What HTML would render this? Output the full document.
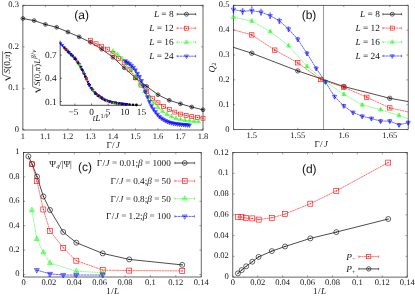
<!DOCTYPE html>
<html><head><meta charset="utf-8"><title>figure</title>
<style>
html,body{margin:0;padding:0;background:#fff;}
body{width:415px;height:297px;overflow:hidden;font-family:"Liberation Serif",serif;}
svg{display:block}
text{fill:#141414;text-rendering:geometricPrecision}
</style></head><body>
<svg width="415" height="297" viewBox="0 0 415 297">
<rect width="415" height="297" fill="#fff"/>
<filter id="soft" x="0" y="0" width="100%" height="100%" filterUnits="userSpaceOnUse"><feGaussianBlur stdDeviation="0.3"/></filter>
<g filter="url(#soft)">
<rect width="415" height="297" fill="#fff"/>
<clipPath id="ca"><rect x="22.9" y="5.3" width="183.1" height="124.7"/></clipPath>
<rect x="22.9" y="5.3" width="180.1" height="124.7" fill="none" stroke="#2a2a2a" stroke-width="0.72"/>
<line x1="22.90" y1="130.0" x2="22.90" y2="128.2" stroke="#2a2a2a" stroke-width="0.432"/>
<line x1="22.90" y1="5.3" x2="22.90" y2="7.1" stroke="#2a2a2a" stroke-width="0.432"/>
<text x="22.90" y="139.00" font-size="8.5" text-anchor="middle" font-family='"Liberation Serif", serif'  >1</text>
<line x1="45.41" y1="130.0" x2="45.41" y2="128.2" stroke="#2a2a2a" stroke-width="0.432"/>
<line x1="45.41" y1="5.3" x2="45.41" y2="7.1" stroke="#2a2a2a" stroke-width="0.432"/>
<text x="45.41" y="139.00" font-size="8.5" text-anchor="middle" font-family='"Liberation Serif", serif'  >1.1</text>
<line x1="67.92" y1="130.0" x2="67.92" y2="128.2" stroke="#2a2a2a" stroke-width="0.432"/>
<line x1="67.92" y1="5.3" x2="67.92" y2="7.1" stroke="#2a2a2a" stroke-width="0.432"/>
<text x="67.92" y="139.00" font-size="8.5" text-anchor="middle" font-family='"Liberation Serif", serif'  >1.2</text>
<line x1="90.44" y1="130.0" x2="90.44" y2="128.2" stroke="#2a2a2a" stroke-width="0.432"/>
<line x1="90.44" y1="5.3" x2="90.44" y2="7.1" stroke="#2a2a2a" stroke-width="0.432"/>
<text x="90.44" y="139.00" font-size="8.5" text-anchor="middle" font-family='"Liberation Serif", serif'  >1.3</text>
<line x1="112.95" y1="130.0" x2="112.95" y2="128.2" stroke="#2a2a2a" stroke-width="0.432"/>
<line x1="112.95" y1="5.3" x2="112.95" y2="7.1" stroke="#2a2a2a" stroke-width="0.432"/>
<text x="112.95" y="139.00" font-size="8.5" text-anchor="middle" font-family='"Liberation Serif", serif'  >1.4</text>
<line x1="135.46" y1="130.0" x2="135.46" y2="128.2" stroke="#2a2a2a" stroke-width="0.432"/>
<line x1="135.46" y1="5.3" x2="135.46" y2="7.1" stroke="#2a2a2a" stroke-width="0.432"/>
<text x="135.46" y="139.00" font-size="8.5" text-anchor="middle" font-family='"Liberation Serif", serif'  >1.5</text>
<line x1="157.98" y1="130.0" x2="157.98" y2="128.2" stroke="#2a2a2a" stroke-width="0.432"/>
<line x1="157.98" y1="5.3" x2="157.98" y2="7.1" stroke="#2a2a2a" stroke-width="0.432"/>
<text x="157.98" y="139.00" font-size="8.5" text-anchor="middle" font-family='"Liberation Serif", serif'  >1.6</text>
<line x1="180.49" y1="130.0" x2="180.49" y2="128.2" stroke="#2a2a2a" stroke-width="0.432"/>
<line x1="180.49" y1="5.3" x2="180.49" y2="7.1" stroke="#2a2a2a" stroke-width="0.432"/>
<text x="180.49" y="139.00" font-size="8.5" text-anchor="middle" font-family='"Liberation Serif", serif'  >1.7</text>
<line x1="203.00" y1="130.0" x2="203.00" y2="128.2" stroke="#2a2a2a" stroke-width="0.432"/>
<line x1="203.00" y1="5.3" x2="203.00" y2="7.1" stroke="#2a2a2a" stroke-width="0.432"/>
<text x="203.00" y="139.00" font-size="8.5" text-anchor="middle" font-family='"Liberation Serif", serif'  >1.8</text>
<line x1="22.9" y1="130.00" x2="24.7" y2="130.00" stroke="#2a2a2a" stroke-width="0.432"/>
<line x1="203.0" y1="130.00" x2="201.2" y2="130.00" stroke="#2a2a2a" stroke-width="0.432"/>
<text x="18.90" y="131.90" font-size="8.5" text-anchor="end" font-family='"Liberation Serif", serif'  >0</text>
<line x1="22.9" y1="88.43" x2="24.7" y2="88.43" stroke="#2a2a2a" stroke-width="0.432"/>
<line x1="203.0" y1="88.43" x2="201.2" y2="88.43" stroke="#2a2a2a" stroke-width="0.432"/>
<text x="18.90" y="90.33" font-size="8.5" text-anchor="end" font-family='"Liberation Serif", serif'  >0.1</text>
<line x1="22.9" y1="46.87" x2="24.7" y2="46.87" stroke="#2a2a2a" stroke-width="0.432"/>
<line x1="203.0" y1="46.87" x2="201.2" y2="46.87" stroke="#2a2a2a" stroke-width="0.432"/>
<text x="18.90" y="48.77" font-size="8.5" text-anchor="end" font-family='"Liberation Serif", serif'  >0.2</text>
<line x1="22.9" y1="5.30" x2="24.7" y2="5.30" stroke="#2a2a2a" stroke-width="0.432"/>
<line x1="203.0" y1="5.30" x2="201.2" y2="5.30" stroke="#2a2a2a" stroke-width="0.432"/>
<text x="18.90" y="7.20" font-size="8.5" text-anchor="end" font-family='"Liberation Serif", serif'  >0.3</text>
<g>
<polyline points="22.90,18.50 34.16,20.60 45.41,24.40 56.67,27.30 67.92,32.00 79.18,36.90 90.44,42.30 101.69,49.20 112.95,57.30 124.21,67.80 135.46,77.90 146.72,86.40 157.98,94.70 169.23,100.30 180.49,103.80 191.74,107.00 203.00,109.80" fill="none" stroke="#000" stroke-width="0.7" />
<polyline points="90.44,40.20 96.07,43.80 101.69,46.20 107.32,49.20 112.95,53.50 118.58,58.30 124.21,62.80 129.83,69.80 135.46,77.80 141.09,85.10 146.72,91.40 152.35,98.20 157.98,102.80 163.60,106.60 169.23,109.60 174.86,112.10 180.49,114.10 186.12,115.40 191.74,116.70 197.37,117.40 203.00,118.20" fill="none" stroke="#ff0000" stroke-width="0.55" stroke-dasharray="2.2,0.45" />
<polyline points="112.95,51.10 117.45,54.50 121.95,58.50 126.46,63.50 130.96,69.50 135.46,76.50 139.97,84.00 144.47,91.30 148.97,97.20 153.47,102.50 157.97,107.30 162.48,111.20 166.98,114.30 171.48,116.60 175.98,118.30 180.49,119.60 184.99,120.40 189.49,120.90 193.99,121.30 198.50,121.80" fill="none" stroke="#00ff00" stroke-width="0.55" stroke-dasharray="1.2,0.55" />
<polyline points="125.40,61.00 127.40,62.31 129.40,63.82 131.40,65.45 133.40,67.48 135.40,70.10 137.40,73.53 139.40,76.74 141.40,80.78 143.40,85.85 145.40,91.85 147.40,96.89 149.40,101.74 151.40,105.92 153.40,109.05 155.40,111.83 157.40,114.42 159.40,116.62 161.40,118.20 163.40,119.48 165.40,120.65 167.40,121.58 169.40,122.36 171.40,122.89 173.40,123.31 175.40,123.67 177.40,123.97 179.40,124.23 181.40,124.46 183.40,124.66 185.40,124.83 187.40,124.99 189.40,125.13" fill="none" stroke="#0000ff" stroke-width="0.6" stroke-dasharray="2.4,0.4" />
<circle cx="22.90" cy="18.50" r="1.90" fill="none" stroke="#000" stroke-width="0.6"/>
<circle cx="22.90" cy="18.50" r="0.55" fill="#000"/>
<path d="M22.90,17.00 V20.00 M21.60,18.50 H24.20" stroke="#000" stroke-width="0.5"/>
<circle cx="34.16" cy="20.60" r="1.90" fill="none" stroke="#000" stroke-width="0.6"/>
<circle cx="34.16" cy="20.60" r="0.55" fill="#000"/>
<path d="M34.16,19.10 V22.10 M32.86,20.60 H35.46" stroke="#000" stroke-width="0.5"/>
<circle cx="45.41" cy="24.40" r="1.90" fill="none" stroke="#000" stroke-width="0.6"/>
<circle cx="45.41" cy="24.40" r="0.55" fill="#000"/>
<path d="M45.41,22.90 V25.90 M44.11,24.40 H46.71" stroke="#000" stroke-width="0.5"/>
<circle cx="56.67" cy="27.30" r="1.90" fill="none" stroke="#000" stroke-width="0.6"/>
<circle cx="56.67" cy="27.30" r="0.55" fill="#000"/>
<path d="M56.67,25.80 V28.80 M55.37,27.30 H57.97" stroke="#000" stroke-width="0.5"/>
<circle cx="67.92" cy="32.00" r="1.90" fill="none" stroke="#000" stroke-width="0.6"/>
<circle cx="67.92" cy="32.00" r="0.55" fill="#000"/>
<path d="M67.92,30.50 V33.50 M66.62,32.00 H69.22" stroke="#000" stroke-width="0.5"/>
<circle cx="79.18" cy="36.90" r="1.90" fill="none" stroke="#000" stroke-width="0.6"/>
<circle cx="79.18" cy="36.90" r="0.55" fill="#000"/>
<path d="M79.18,35.40 V38.40 M77.88,36.90 H80.48" stroke="#000" stroke-width="0.5"/>
<circle cx="90.44" cy="42.30" r="1.90" fill="none" stroke="#000" stroke-width="0.6"/>
<circle cx="90.44" cy="42.30" r="0.55" fill="#000"/>
<path d="M90.44,40.80 V43.80 M89.14,42.30 H91.74" stroke="#000" stroke-width="0.5"/>
<circle cx="101.69" cy="49.20" r="1.90" fill="none" stroke="#000" stroke-width="0.6"/>
<circle cx="101.69" cy="49.20" r="0.55" fill="#000"/>
<path d="M101.69,47.70 V50.70 M100.39,49.20 H102.99" stroke="#000" stroke-width="0.5"/>
<circle cx="112.95" cy="57.30" r="1.90" fill="none" stroke="#000" stroke-width="0.6"/>
<circle cx="112.95" cy="57.30" r="0.55" fill="#000"/>
<path d="M112.95,55.80 V58.80 M111.65,57.30 H114.25" stroke="#000" stroke-width="0.5"/>
<circle cx="124.21" cy="67.80" r="1.90" fill="none" stroke="#000" stroke-width="0.6"/>
<circle cx="124.21" cy="67.80" r="0.55" fill="#000"/>
<path d="M124.21,66.30 V69.30 M122.91,67.80 H125.51" stroke="#000" stroke-width="0.5"/>
<circle cx="135.46" cy="77.90" r="1.90" fill="none" stroke="#000" stroke-width="0.6"/>
<circle cx="135.46" cy="77.90" r="0.55" fill="#000"/>
<path d="M135.46,76.40 V79.40 M134.16,77.90 H136.76" stroke="#000" stroke-width="0.5"/>
<circle cx="146.72" cy="86.40" r="1.90" fill="none" stroke="#000" stroke-width="0.6"/>
<circle cx="146.72" cy="86.40" r="0.55" fill="#000"/>
<path d="M146.72,84.90 V87.90 M145.42,86.40 H148.02" stroke="#000" stroke-width="0.5"/>
<circle cx="157.98" cy="94.70" r="1.90" fill="none" stroke="#000" stroke-width="0.6"/>
<circle cx="157.98" cy="94.70" r="0.55" fill="#000"/>
<path d="M157.98,93.20 V96.20 M156.68,94.70 H159.28" stroke="#000" stroke-width="0.5"/>
<circle cx="169.23" cy="100.30" r="1.90" fill="none" stroke="#000" stroke-width="0.6"/>
<circle cx="169.23" cy="100.30" r="0.55" fill="#000"/>
<path d="M169.23,98.80 V101.80 M167.93,100.30 H170.53" stroke="#000" stroke-width="0.5"/>
<circle cx="180.49" cy="103.80" r="1.90" fill="none" stroke="#000" stroke-width="0.6"/>
<circle cx="180.49" cy="103.80" r="0.55" fill="#000"/>
<path d="M180.49,102.30 V105.30 M179.19,103.80 H181.79" stroke="#000" stroke-width="0.5"/>
<circle cx="191.74" cy="107.00" r="1.90" fill="none" stroke="#000" stroke-width="0.6"/>
<circle cx="191.74" cy="107.00" r="0.55" fill="#000"/>
<path d="M191.74,105.50 V108.50 M190.44,107.00 H193.04" stroke="#000" stroke-width="0.5"/>
<circle cx="203.00" cy="109.80" r="1.90" fill="none" stroke="#000" stroke-width="0.6"/>
<circle cx="203.00" cy="109.80" r="0.55" fill="#000"/>
<path d="M203.00,108.30 V111.30 M201.70,109.80 H204.30" stroke="#000" stroke-width="0.5"/>
<rect x="88.44" y="38.20" width="4.00" height="4.00" fill="none" stroke="#ff0000" stroke-width="0.6"/>
<circle cx="90.44" cy="40.20" r="0.55" fill="#ff0000"/>
<rect x="94.07" y="41.80" width="4.00" height="4.00" fill="none" stroke="#ff0000" stroke-width="0.6"/>
<circle cx="96.07" cy="43.80" r="0.55" fill="#ff0000"/>
<rect x="99.69" y="44.20" width="4.00" height="4.00" fill="none" stroke="#ff0000" stroke-width="0.6"/>
<circle cx="101.69" cy="46.20" r="0.55" fill="#ff0000"/>
<rect x="105.32" y="47.20" width="4.00" height="4.00" fill="none" stroke="#ff0000" stroke-width="0.6"/>
<circle cx="107.32" cy="49.20" r="0.55" fill="#ff0000"/>
<rect x="110.95" y="51.50" width="4.00" height="4.00" fill="none" stroke="#ff0000" stroke-width="0.6"/>
<circle cx="112.95" cy="53.50" r="0.55" fill="#ff0000"/>
<rect x="116.58" y="56.30" width="4.00" height="4.00" fill="none" stroke="#ff0000" stroke-width="0.6"/>
<circle cx="118.58" cy="58.30" r="0.55" fill="#ff0000"/>
<rect x="122.21" y="60.80" width="4.00" height="4.00" fill="none" stroke="#ff0000" stroke-width="0.6"/>
<circle cx="124.21" cy="62.80" r="0.55" fill="#ff0000"/>
<rect x="127.83" y="67.80" width="4.00" height="4.00" fill="none" stroke="#ff0000" stroke-width="0.6"/>
<circle cx="129.83" cy="69.80" r="0.55" fill="#ff0000"/>
<rect x="133.46" y="75.80" width="4.00" height="4.00" fill="none" stroke="#ff0000" stroke-width="0.6"/>
<circle cx="135.46" cy="77.80" r="0.55" fill="#ff0000"/>
<rect x="139.09" y="83.10" width="4.00" height="4.00" fill="none" stroke="#ff0000" stroke-width="0.6"/>
<circle cx="141.09" cy="85.10" r="0.55" fill="#ff0000"/>
<rect x="144.72" y="89.40" width="4.00" height="4.00" fill="none" stroke="#ff0000" stroke-width="0.6"/>
<circle cx="146.72" cy="91.40" r="0.55" fill="#ff0000"/>
<rect x="150.35" y="96.20" width="4.00" height="4.00" fill="none" stroke="#ff0000" stroke-width="0.6"/>
<circle cx="152.35" cy="98.20" r="0.55" fill="#ff0000"/>
<rect x="155.98" y="100.80" width="4.00" height="4.00" fill="none" stroke="#ff0000" stroke-width="0.6"/>
<circle cx="157.98" cy="102.80" r="0.55" fill="#ff0000"/>
<rect x="161.60" y="104.60" width="4.00" height="4.00" fill="none" stroke="#ff0000" stroke-width="0.6"/>
<circle cx="163.60" cy="106.60" r="0.55" fill="#ff0000"/>
<rect x="167.23" y="107.60" width="4.00" height="4.00" fill="none" stroke="#ff0000" stroke-width="0.6"/>
<circle cx="169.23" cy="109.60" r="0.55" fill="#ff0000"/>
<rect x="172.86" y="110.10" width="4.00" height="4.00" fill="none" stroke="#ff0000" stroke-width="0.6"/>
<circle cx="174.86" cy="112.10" r="0.55" fill="#ff0000"/>
<rect x="178.49" y="112.10" width="4.00" height="4.00" fill="none" stroke="#ff0000" stroke-width="0.6"/>
<circle cx="180.49" cy="114.10" r="0.55" fill="#ff0000"/>
<rect x="184.12" y="113.40" width="4.00" height="4.00" fill="none" stroke="#ff0000" stroke-width="0.6"/>
<circle cx="186.12" cy="115.40" r="0.55" fill="#ff0000"/>
<rect x="189.74" y="114.70" width="4.00" height="4.00" fill="none" stroke="#ff0000" stroke-width="0.6"/>
<circle cx="191.74" cy="116.70" r="0.55" fill="#ff0000"/>
<rect x="195.37" y="115.40" width="4.00" height="4.00" fill="none" stroke="#ff0000" stroke-width="0.6"/>
<circle cx="197.37" cy="117.40" r="0.55" fill="#ff0000"/>
<rect x="201.00" y="116.20" width="4.00" height="4.00" fill="none" stroke="#ff0000" stroke-width="0.6"/>
<circle cx="203.00" cy="118.20" r="0.55" fill="#ff0000"/>
<path d="M112.95,48.70 L114.95,52.34 L110.95,52.34 Z" fill="#00ff00" fill-opacity="0.3" stroke="#00ff00" stroke-width="0.5"/>
<circle cx="112.95" cy="51.10" r="0.55" fill="#00ff00"/>
<path d="M117.45,52.10 L119.45,55.74 L115.45,55.74 Z" fill="#00ff00" fill-opacity="0.3" stroke="#00ff00" stroke-width="0.5"/>
<circle cx="117.45" cy="54.50" r="0.55" fill="#00ff00"/>
<path d="M121.95,56.10 L123.95,59.74 L119.95,59.74 Z" fill="#00ff00" fill-opacity="0.3" stroke="#00ff00" stroke-width="0.5"/>
<circle cx="121.95" cy="58.50" r="0.55" fill="#00ff00"/>
<path d="M126.46,61.10 L128.46,64.74 L124.46,64.74 Z" fill="#00ff00" fill-opacity="0.3" stroke="#00ff00" stroke-width="0.5"/>
<circle cx="126.46" cy="63.50" r="0.55" fill="#00ff00"/>
<path d="M130.96,67.10 L132.96,70.74 L128.96,70.74 Z" fill="#00ff00" fill-opacity="0.3" stroke="#00ff00" stroke-width="0.5"/>
<circle cx="130.96" cy="69.50" r="0.55" fill="#00ff00"/>
<path d="M135.46,74.10 L137.46,77.74 L133.46,77.74 Z" fill="#00ff00" fill-opacity="0.3" stroke="#00ff00" stroke-width="0.5"/>
<circle cx="135.46" cy="76.50" r="0.55" fill="#00ff00"/>
<path d="M139.97,81.60 L141.97,85.24 L137.97,85.24 Z" fill="#00ff00" fill-opacity="0.3" stroke="#00ff00" stroke-width="0.5"/>
<circle cx="139.97" cy="84.00" r="0.55" fill="#00ff00"/>
<path d="M144.47,88.90 L146.47,92.54 L142.47,92.54 Z" fill="#00ff00" fill-opacity="0.3" stroke="#00ff00" stroke-width="0.5"/>
<circle cx="144.47" cy="91.30" r="0.55" fill="#00ff00"/>
<path d="M148.97,94.80 L150.97,98.44 L146.97,98.44 Z" fill="#00ff00" fill-opacity="0.3" stroke="#00ff00" stroke-width="0.5"/>
<circle cx="148.97" cy="97.20" r="0.55" fill="#00ff00"/>
<path d="M153.47,100.10 L155.47,103.74 L151.47,103.74 Z" fill="#00ff00" fill-opacity="0.3" stroke="#00ff00" stroke-width="0.5"/>
<circle cx="153.47" cy="102.50" r="0.55" fill="#00ff00"/>
<path d="M157.97,104.90 L159.97,108.54 L155.97,108.54 Z" fill="#00ff00" fill-opacity="0.3" stroke="#00ff00" stroke-width="0.5"/>
<circle cx="157.97" cy="107.30" r="0.55" fill="#00ff00"/>
<path d="M162.48,108.80 L164.48,112.44 L160.48,112.44 Z" fill="#00ff00" fill-opacity="0.3" stroke="#00ff00" stroke-width="0.5"/>
<circle cx="162.48" cy="111.20" r="0.55" fill="#00ff00"/>
<path d="M166.98,111.90 L168.98,115.54 L164.98,115.54 Z" fill="#00ff00" fill-opacity="0.3" stroke="#00ff00" stroke-width="0.5"/>
<circle cx="166.98" cy="114.30" r="0.55" fill="#00ff00"/>
<path d="M171.48,114.20 L173.48,117.84 L169.48,117.84 Z" fill="#00ff00" fill-opacity="0.3" stroke="#00ff00" stroke-width="0.5"/>
<circle cx="171.48" cy="116.60" r="0.55" fill="#00ff00"/>
<path d="M175.98,115.90 L177.98,119.54 L173.98,119.54 Z" fill="#00ff00" fill-opacity="0.3" stroke="#00ff00" stroke-width="0.5"/>
<circle cx="175.98" cy="118.30" r="0.55" fill="#00ff00"/>
<path d="M180.49,117.20 L182.49,120.84 L178.49,120.84 Z" fill="#00ff00" fill-opacity="0.3" stroke="#00ff00" stroke-width="0.5"/>
<circle cx="180.49" cy="119.60" r="0.55" fill="#00ff00"/>
<path d="M184.99,118.00 L186.99,121.64 L182.99,121.64 Z" fill="#00ff00" fill-opacity="0.3" stroke="#00ff00" stroke-width="0.5"/>
<circle cx="184.99" cy="120.40" r="0.55" fill="#00ff00"/>
<path d="M189.49,118.50 L191.49,122.14 L187.49,122.14 Z" fill="#00ff00" fill-opacity="0.3" stroke="#00ff00" stroke-width="0.5"/>
<circle cx="189.49" cy="120.90" r="0.55" fill="#00ff00"/>
<path d="M193.99,118.90 L195.99,122.54 L191.99,122.54 Z" fill="#00ff00" fill-opacity="0.3" stroke="#00ff00" stroke-width="0.5"/>
<circle cx="193.99" cy="121.30" r="0.55" fill="#00ff00"/>
<path d="M198.50,119.40 L200.50,123.04 L196.50,123.04 Z" fill="#00ff00" fill-opacity="0.3" stroke="#00ff00" stroke-width="0.5"/>
<circle cx="198.50" cy="121.80" r="0.55" fill="#00ff00"/>
<path d="M125.40,63.40 L127.40,59.76 L123.40,59.76 Z" fill="#0000ff" fill-opacity="0.45" stroke="#0000ff" stroke-width="0.5"/>
<circle cx="125.40" cy="61.00" r="0.55" fill="#0000ff"/>
<path d="M127.40,64.71 L129.40,61.07 L125.40,61.07 Z" fill="#0000ff" fill-opacity="0.45" stroke="#0000ff" stroke-width="0.5"/>
<circle cx="127.40" cy="62.31" r="0.55" fill="#0000ff"/>
<path d="M129.40,66.22 L131.40,62.58 L127.40,62.58 Z" fill="#0000ff" fill-opacity="0.45" stroke="#0000ff" stroke-width="0.5"/>
<circle cx="129.40" cy="63.82" r="0.55" fill="#0000ff"/>
<path d="M131.40,67.85 L133.40,64.21 L129.40,64.21 Z" fill="#0000ff" fill-opacity="0.45" stroke="#0000ff" stroke-width="0.5"/>
<circle cx="131.40" cy="65.45" r="0.55" fill="#0000ff"/>
<path d="M133.40,69.88 L135.40,66.24 L131.40,66.24 Z" fill="#0000ff" fill-opacity="0.45" stroke="#0000ff" stroke-width="0.5"/>
<circle cx="133.40" cy="67.48" r="0.55" fill="#0000ff"/>
<path d="M135.40,72.50 L137.40,68.86 L133.40,68.86 Z" fill="#0000ff" fill-opacity="0.45" stroke="#0000ff" stroke-width="0.5"/>
<circle cx="135.40" cy="70.10" r="0.55" fill="#0000ff"/>
<path d="M137.40,75.93 L139.40,72.29 L135.40,72.29 Z" fill="#0000ff" fill-opacity="0.45" stroke="#0000ff" stroke-width="0.5"/>
<circle cx="137.40" cy="73.53" r="0.55" fill="#0000ff"/>
<path d="M139.40,79.14 L141.40,75.50 L137.40,75.50 Z" fill="#0000ff" fill-opacity="0.45" stroke="#0000ff" stroke-width="0.5"/>
<circle cx="139.40" cy="76.74" r="0.55" fill="#0000ff"/>
<path d="M141.40,83.18 L143.40,79.54 L139.40,79.54 Z" fill="#0000ff" fill-opacity="0.45" stroke="#0000ff" stroke-width="0.5"/>
<circle cx="141.40" cy="80.78" r="0.55" fill="#0000ff"/>
<path d="M143.40,88.25 L145.40,84.61 L141.40,84.61 Z" fill="#0000ff" fill-opacity="0.45" stroke="#0000ff" stroke-width="0.5"/>
<circle cx="143.40" cy="85.85" r="0.55" fill="#0000ff"/>
<path d="M145.40,94.25 L147.40,90.61 L143.40,90.61 Z" fill="#0000ff" fill-opacity="0.45" stroke="#0000ff" stroke-width="0.5"/>
<circle cx="145.40" cy="91.85" r="0.55" fill="#0000ff"/>
<path d="M147.40,99.29 L149.40,95.65 L145.40,95.65 Z" fill="#0000ff" fill-opacity="0.45" stroke="#0000ff" stroke-width="0.5"/>
<circle cx="147.40" cy="96.89" r="0.55" fill="#0000ff"/>
<path d="M149.40,104.14 L151.40,100.50 L147.40,100.50 Z" fill="#0000ff" fill-opacity="0.45" stroke="#0000ff" stroke-width="0.5"/>
<circle cx="149.40" cy="101.74" r="0.55" fill="#0000ff"/>
<path d="M151.40,108.32 L153.40,104.68 L149.40,104.68 Z" fill="#0000ff" fill-opacity="0.45" stroke="#0000ff" stroke-width="0.5"/>
<circle cx="151.40" cy="105.92" r="0.55" fill="#0000ff"/>
<path d="M153.40,111.45 L155.40,107.81 L151.40,107.81 Z" fill="#0000ff" fill-opacity="0.45" stroke="#0000ff" stroke-width="0.5"/>
<circle cx="153.40" cy="109.05" r="0.55" fill="#0000ff"/>
<path d="M155.40,114.23 L157.40,110.59 L153.40,110.59 Z" fill="#0000ff" fill-opacity="0.45" stroke="#0000ff" stroke-width="0.5"/>
<circle cx="155.40" cy="111.83" r="0.55" fill="#0000ff"/>
<path d="M157.40,116.82 L159.40,113.18 L155.40,113.18 Z" fill="#0000ff" fill-opacity="0.45" stroke="#0000ff" stroke-width="0.5"/>
<circle cx="157.40" cy="114.42" r="0.55" fill="#0000ff"/>
<path d="M159.40,119.02 L161.40,115.38 L157.40,115.38 Z" fill="#0000ff" fill-opacity="0.45" stroke="#0000ff" stroke-width="0.5"/>
<circle cx="159.40" cy="116.62" r="0.55" fill="#0000ff"/>
<path d="M161.40,120.60 L163.40,116.96 L159.40,116.96 Z" fill="#0000ff" fill-opacity="0.45" stroke="#0000ff" stroke-width="0.5"/>
<circle cx="161.40" cy="118.20" r="0.55" fill="#0000ff"/>
<path d="M163.40,121.88 L165.40,118.24 L161.40,118.24 Z" fill="#0000ff" fill-opacity="0.45" stroke="#0000ff" stroke-width="0.5"/>
<circle cx="163.40" cy="119.48" r="0.55" fill="#0000ff"/>
<path d="M165.40,123.05 L167.40,119.41 L163.40,119.41 Z" fill="#0000ff" fill-opacity="0.45" stroke="#0000ff" stroke-width="0.5"/>
<circle cx="165.40" cy="120.65" r="0.55" fill="#0000ff"/>
<path d="M167.40,123.98 L169.40,120.34 L165.40,120.34 Z" fill="#0000ff" fill-opacity="0.45" stroke="#0000ff" stroke-width="0.5"/>
<circle cx="167.40" cy="121.58" r="0.55" fill="#0000ff"/>
<path d="M169.40,124.76 L171.40,121.12 L167.40,121.12 Z" fill="#0000ff" fill-opacity="0.45" stroke="#0000ff" stroke-width="0.5"/>
<circle cx="169.40" cy="122.36" r="0.55" fill="#0000ff"/>
<path d="M171.40,125.29 L173.40,121.65 L169.40,121.65 Z" fill="#0000ff" fill-opacity="0.45" stroke="#0000ff" stroke-width="0.5"/>
<circle cx="171.40" cy="122.89" r="0.55" fill="#0000ff"/>
<path d="M173.40,125.71 L175.40,122.07 L171.40,122.07 Z" fill="#0000ff" fill-opacity="0.45" stroke="#0000ff" stroke-width="0.5"/>
<circle cx="173.40" cy="123.31" r="0.55" fill="#0000ff"/>
<path d="M175.40,126.07 L177.40,122.43 L173.40,122.43 Z" fill="#0000ff" fill-opacity="0.45" stroke="#0000ff" stroke-width="0.5"/>
<circle cx="175.40" cy="123.67" r="0.55" fill="#0000ff"/>
<path d="M177.40,126.37 L179.40,122.73 L175.40,122.73 Z" fill="#0000ff" fill-opacity="0.45" stroke="#0000ff" stroke-width="0.5"/>
<circle cx="177.40" cy="123.97" r="0.55" fill="#0000ff"/>
<path d="M179.40,126.63 L181.40,122.99 L177.40,122.99 Z" fill="#0000ff" fill-opacity="0.45" stroke="#0000ff" stroke-width="0.5"/>
<circle cx="179.40" cy="124.23" r="0.55" fill="#0000ff"/>
<path d="M181.40,126.86 L183.40,123.22 L179.40,123.22 Z" fill="#0000ff" fill-opacity="0.45" stroke="#0000ff" stroke-width="0.5"/>
<circle cx="181.40" cy="124.46" r="0.55" fill="#0000ff"/>
<path d="M183.40,127.06 L185.40,123.42 L181.40,123.42 Z" fill="#0000ff" fill-opacity="0.45" stroke="#0000ff" stroke-width="0.5"/>
<circle cx="183.40" cy="124.66" r="0.55" fill="#0000ff"/>
<path d="M185.40,127.23 L187.40,123.59 L183.40,123.59 Z" fill="#0000ff" fill-opacity="0.45" stroke="#0000ff" stroke-width="0.5"/>
<circle cx="185.40" cy="124.83" r="0.55" fill="#0000ff"/>
<path d="M187.40,127.39 L189.40,123.75 L185.40,123.75 Z" fill="#0000ff" fill-opacity="0.45" stroke="#0000ff" stroke-width="0.5"/>
<circle cx="187.40" cy="124.99" r="0.55" fill="#0000ff"/>
<path d="M189.40,127.53 L191.40,123.89 L187.40,123.89 Z" fill="#0000ff" fill-opacity="0.45" stroke="#0000ff" stroke-width="0.5"/>
<circle cx="189.40" cy="125.13" r="0.55" fill="#0000ff"/>
</g>
<text x="173.60" y="17.20" font-size="9.3" text-anchor="end" font-family='"Liberation Serif", serif'  ><tspan font-style="italic">L</tspan> = 8</text>
<polyline points="177.20,14.20 195.70,14.20" fill="none" stroke="#000" stroke-width="0.7" />
<path d="M177.2,13.0 V15.399999999999999 M195.7,13.0 V15.399999999999999" stroke="#000" stroke-width="0.5"/>
<circle cx="186.45" cy="14.20" r="2.00" fill="none" stroke="#000" stroke-width="0.6"/>
<circle cx="186.45" cy="14.20" r="0.55" fill="#000"/>
<text x="173.60" y="31.20" font-size="9.3" text-anchor="end" font-family='"Liberation Serif", serif'  ><tspan font-style="italic">L</tspan> = 12</text>
<polyline points="177.20,28.20 195.70,28.20" fill="none" stroke="#ff0000" stroke-width="0.55" stroke-dasharray="2.2,0.45" />
<path d="M177.2,27.0 V29.4 M195.7,27.0 V29.4" stroke="#ff0000" stroke-width="0.5"/>
<rect x="184.45" y="26.20" width="4.00" height="4.00" fill="none" stroke="#ff0000" stroke-width="0.6"/>
<circle cx="186.45" cy="28.20" r="0.55" fill="#ff0000"/>
<text x="173.60" y="45.20" font-size="9.3" text-anchor="end" font-family='"Liberation Serif", serif'  ><tspan font-style="italic">L</tspan> = 16</text>
<polyline points="177.20,42.20 195.70,42.20" fill="none" stroke="#00ff00" stroke-width="0.55" stroke-dasharray="1.2,0.55" />
<path d="M177.2,41.0 V43.400000000000006 M195.7,41.0 V43.400000000000006" stroke="#00ff00" stroke-width="0.5"/>
<path d="M186.45,39.80 L188.45,43.44 L184.45,43.44 Z" fill="#00ff00" fill-opacity="0.12" stroke="#00ff00" stroke-width="0.5"/>
<circle cx="186.45" cy="42.20" r="0.55" fill="#00ff00"/>
<text x="173.60" y="59.20" font-size="9.3" text-anchor="end" font-family='"Liberation Serif", serif'  ><tspan font-style="italic">L</tspan> = 24</text>
<polyline points="177.20,56.20 195.70,56.20" fill="none" stroke="#0000ff" stroke-width="0.6" stroke-dasharray="2.4,0.4" />
<path d="M177.2,55.0 V57.400000000000006 M195.7,55.0 V57.400000000000006" stroke="#0000ff" stroke-width="0.5"/>
<path d="M186.45,58.60 L188.45,54.96 L184.45,54.96 Z" fill="#0000ff" fill-opacity="0.12" stroke="#0000ff" stroke-width="0.5"/>
<circle cx="186.45" cy="56.20" r="0.55" fill="#0000ff"/>
<text x="81.70" y="19.30" font-size="12" text-anchor="middle" font-family='"Liberation Sans", sans-serif'  >(a)</text>
<text x="113.30" y="148.20" font-size="9.0" text-anchor="middle" font-family='"Liberation Serif", serif'  letter-spacing="0.5">&#915;/<tspan font-style="italic" dx="0.6">J</tspan></text>
<g transform="translate(9.6,81.4) rotate(-90)">
<path d="M0.3,-3.2 L1.6,-4.0 L3.6,0.9 L6.6,-7.0 L30.2,-7.0" fill="none" stroke="#000" stroke-width="0.55" stroke-linejoin="miter"/>
<path d="M1.6,-4.0 L3.6,0.9" fill="none" stroke="#000" stroke-width="0.75"/>
<text x="8.00" y="0.00" font-size="9.1" text-anchor="start" font-family='"Liberation Serif", serif'  ><tspan font-style="italic">S</tspan>(0,<tspan font-style="italic">&#960;</tspan>)</text>
</g>
<path d="M60.2,40.7 L60.2,105.3 L141.0,105.3" fill="none" stroke="#000" stroke-width="0.7"/>
<line x1="74.85" y1="105.3" x2="74.85" y2="103.5" stroke="#000" stroke-width="0.5"/>
<text x="73.35" y="114.60" font-size="9.3" text-anchor="middle" font-family='"Liberation Serif", serif'  >&#8722;5</text>
<line x1="91.50" y1="105.3" x2="91.50" y2="103.5" stroke="#000" stroke-width="0.5"/>
<text x="91.50" y="114.60" font-size="9.3" text-anchor="middle" font-family='"Liberation Serif", serif'  >0</text>
<line x1="108.15" y1="105.3" x2="108.15" y2="103.5" stroke="#000" stroke-width="0.5"/>
<text x="108.15" y="114.60" font-size="9.3" text-anchor="middle" font-family='"Liberation Serif", serif'  >5</text>
<line x1="124.80" y1="105.3" x2="124.80" y2="103.5" stroke="#000" stroke-width="0.5"/>
<text x="124.80" y="114.60" font-size="9.3" text-anchor="middle" font-family='"Liberation Serif", serif'  >10</text>
<line x1="141.45" y1="105.3" x2="141.45" y2="103.5" stroke="#000" stroke-width="0.5"/>
<text x="141.45" y="114.60" font-size="9.3" text-anchor="middle" font-family='"Liberation Serif", serif'  >15</text>
<line x1="60.2" y1="101.50" x2="62.0" y2="101.50" stroke="#000" stroke-width="0.5"/>
<text x="56.70" y="104.50" font-size="9.3" text-anchor="end" font-family='"Liberation Serif", serif'  >0.1</text>
<line x1="60.2" y1="78.30" x2="62.0" y2="78.30" stroke="#000" stroke-width="0.5"/>
<text x="56.70" y="81.30" font-size="9.3" text-anchor="end" font-family='"Liberation Serif", serif'  >0.4</text>
<line x1="60.2" y1="55.10" x2="62.0" y2="55.10" stroke="#000" stroke-width="0.5"/>
<text x="56.70" y="58.10" font-size="9.3" text-anchor="end" font-family='"Liberation Serif", serif'  >0.7</text>
<path d="M60.60,45.40 L62.30,42.40 L58.90,42.40 Z" fill="#0000ff"/>
<path d="M62.30,47.18 L64.00,44.18 L60.60,44.18 Z" fill="#0000ff"/>
<path d="M64.00,49.15 L65.70,46.15 L62.30,46.15 Z" fill="#0000ff"/>
<circle cx="65.00" cy="48.50" r="1.35" fill="#000"/>
<path d="M65.60,47.34 L67.30,50.34 L63.90,50.34 Z" fill="#00ff00"/>
<path d="M65.70,51.04 L67.40,48.04 L64.00,48.04 Z" fill="#0000ff"/>
<rect x="64.90" y="48.45" width="2.6" height="2.6" fill="#ff0000"/>
<path d="M67.40,52.74 L69.10,49.74 L65.70,49.74 Z" fill="#0000ff"/>
<path d="M67.90,49.63 L69.60,52.63 L66.20,52.63 Z" fill="#00ff00"/>
<circle cx="68.40" cy="51.91" r="1.35" fill="#000"/>
<rect x="67.80" y="51.30" width="2.6" height="2.6" fill="#ff0000"/>
<path d="M69.10,54.40 L70.80,51.40 L67.40,51.40 Z" fill="#0000ff"/>
<path d="M70.20,51.90 L71.90,54.90 L68.50,54.90 Z" fill="#00ff00"/>
<path d="M70.80,56.11 L72.50,53.11 L69.10,53.11 Z" fill="#0000ff"/>
<circle cx="71.80" cy="55.31" r="1.35" fill="#000"/>
<rect x="70.70" y="54.21" width="2.6" height="2.6" fill="#ff0000"/>
<path d="M72.50,54.22 L74.20,57.22 L70.80,57.22 Z" fill="#00ff00"/>
<path d="M72.50,57.82 L74.20,54.82 L70.80,54.82 Z" fill="#0000ff"/>
<path d="M74.20,59.60 L75.90,56.60 L72.50,56.60 Z" fill="#0000ff"/>
<path d="M74.80,56.67 L76.50,59.67 L73.10,59.67 Z" fill="#00ff00"/>
<rect x="73.60" y="57.29" width="2.6" height="2.6" fill="#ff0000"/>
<circle cx="75.20" cy="58.93" r="1.35" fill="#000"/>
<path d="M75.90,61.57 L77.60,58.57 L74.20,58.57 Z" fill="#0000ff"/>
<path d="M77.10,59.54 L78.80,62.54 L75.40,62.54 Z" fill="#00ff00"/>
<path d="M77.60,63.83 L79.30,60.83 L75.90,60.83 Z" fill="#0000ff"/>
<rect x="76.50" y="61.01" width="2.6" height="2.6" fill="#ff0000"/>
<circle cx="78.60" cy="63.48" r="1.35" fill="#000"/>
<path d="M79.30,66.36 L81.00,63.36 L77.60,63.36 Z" fill="#0000ff"/>
<path d="M79.40,62.91 L81.10,65.91 L77.70,65.91 Z" fill="#00ff00"/>
<rect x="79.40" y="65.66" width="2.6" height="2.6" fill="#ff0000"/>
<path d="M81.00,69.33 L82.70,66.33 L79.30,66.33 Z" fill="#0000ff"/>
<path d="M81.70,67.10 L83.40,70.10 L80.00,70.10 Z" fill="#00ff00"/>
<circle cx="82.00" cy="69.49" r="1.35" fill="#000"/>
<path d="M82.70,72.70 L84.40,69.70 L81.00,69.70 Z" fill="#0000ff"/>
<rect x="82.30" y="71.46" width="2.6" height="2.6" fill="#ff0000"/>
<path d="M84.00,71.80 L85.70,74.80 L82.30,74.80 Z" fill="#00ff00"/>
<path d="M84.40,76.25 L86.10,73.25 L82.70,73.25 Z" fill="#0000ff"/>
<circle cx="85.40" cy="76.64" r="1.35" fill="#000"/>
<path d="M86.10,80.00 L87.80,77.00 L84.40,77.00 Z" fill="#0000ff"/>
<path d="M86.30,76.84 L88.00,79.84 L84.60,79.84 Z" fill="#00ff00"/>
<rect x="85.20" y="77.79" width="2.6" height="2.6" fill="#ff0000"/>
<path d="M87.80,83.83 L89.50,80.83 L86.10,80.83 Z" fill="#0000ff"/>
<path d="M88.60,82.00 L90.30,85.00 L86.90,85.00 Z" fill="#00ff00"/>
<circle cx="88.80" cy="84.20" r="1.35" fill="#000"/>
<rect x="88.10" y="84.06" width="2.6" height="2.6" fill="#ff0000"/>
<path d="M89.50,87.34 L91.20,84.34 L87.80,84.34 Z" fill="#0000ff"/>
<path d="M90.90,85.96 L92.60,88.96 L89.20,88.96 Z" fill="#00ff00"/>
<path d="M91.20,89.98 L92.90,86.98 L89.50,86.98 Z" fill="#0000ff"/>
<circle cx="92.20" cy="89.50" r="1.35" fill="#000"/>
<rect x="91.00" y="88.33" width="2.6" height="2.6" fill="#ff0000"/>
<path d="M92.90,92.18 L94.60,89.18 L91.20,89.18 Z" fill="#0000ff"/>
<path d="M93.20,88.95 L94.90,91.95 L91.50,91.95 Z" fill="#00ff00"/>
<path d="M94.60,94.29 L96.30,91.29 L92.90,91.29 Z" fill="#0000ff"/>
<rect x="93.90" y="91.89" width="2.6" height="2.6" fill="#ff0000"/>
<path d="M95.50,91.71 L97.20,94.71 L93.80,94.71 Z" fill="#00ff00"/>
<circle cx="95.60" cy="93.62" r="1.35" fill="#000"/>
<path d="M96.30,96.06 L98.00,93.06 L94.60,93.06 Z" fill="#0000ff"/>
<path d="M97.80,93.62 L99.50,96.62 L96.10,96.62 Z" fill="#00ff00"/>
<path d="M98.00,97.36 L99.70,94.36 L96.30,94.36 Z" fill="#0000ff"/>
<rect x="96.80" y="94.33" width="2.6" height="2.6" fill="#ff0000"/>
<circle cx="99.00" cy="96.23" r="1.35" fill="#000"/>
<path d="M99.70,98.48 L101.40,95.48 L98.00,95.48 Z" fill="#0000ff"/>
<path d="M100.10,95.14 L101.80,98.14 L98.40,98.14 Z" fill="#00ff00"/>
<rect x="99.70" y="96.24" width="2.6" height="2.6" fill="#ff0000"/>
<path d="M101.40,99.61 L103.10,96.61 L99.70,96.61 Z" fill="#0000ff"/>
<path d="M102.40,96.69 L104.10,99.69 L100.70,99.69 Z" fill="#00ff00"/>
<circle cx="102.40" cy="98.49" r="1.35" fill="#000"/>
<path d="M103.10,100.75 L104.80,97.75 L101.40,97.75 Z" fill="#0000ff"/>
<rect x="102.60" y="98.14" width="2.6" height="2.6" fill="#ff0000"/>
<path d="M104.70,98.06 L106.40,101.06 L103.00,101.06 Z" fill="#00ff00"/>
<path d="M104.80,101.71 L106.50,98.71 L103.10,98.71 Z" fill="#0000ff"/>
<circle cx="105.80" cy="100.34" r="1.35" fill="#000"/>
<path d="M106.50,102.41 L108.20,99.41 L104.80,99.41 Z" fill="#0000ff"/>
<rect x="105.50" y="99.42" width="2.6" height="2.6" fill="#ff0000"/>
<path d="M107.00,98.99 L108.70,101.99 L105.30,101.99 Z" fill="#00ff00"/>
<path d="M108.20,102.98 L109.90,99.98 L106.50,99.98 Z" fill="#0000ff"/>
<circle cx="109.20" cy="101.48" r="1.35" fill="#000"/>
<path d="M109.30,99.71 L111.00,102.71 L107.60,102.71 Z" fill="#00ff00"/>
<rect x="108.40" y="100.32" width="2.6" height="2.6" fill="#ff0000"/>
<path d="M109.90,103.47 L111.60,100.47 L108.20,100.47 Z" fill="#0000ff"/>
<path d="M111.60,100.30 L113.30,103.30 L109.90,103.30 Z" fill="#00ff00"/>
<path d="M111.60,103.90 L113.30,100.90 L109.90,100.90 Z" fill="#0000ff"/>
<circle cx="112.60" cy="102.33" r="1.35" fill="#000"/>
<rect x="111.30" y="101.03" width="2.6" height="2.6" fill="#ff0000"/>
<path d="M113.30,104.28 L115.00,101.28 L111.60,101.28 Z" fill="#0000ff"/>
<path d="M113.90,100.80 L115.60,103.80 L112.20,103.80 Z" fill="#00ff00"/>
<path d="M115.00,104.62 L116.70,101.62 L113.30,101.62 Z" fill="#0000ff"/>
<rect x="114.20" y="101.61" width="2.6" height="2.6" fill="#ff0000"/>
<circle cx="116.00" cy="103.00" r="1.35" fill="#000"/>
<path d="M116.20,101.24 L117.90,104.24 L114.50,104.24 Z" fill="#00ff00"/>
<path d="M116.70,104.92 L118.40,101.92 L115.00,101.92 Z" fill="#0000ff"/>
<path d="M118.40,105.21 L120.10,102.21 L116.70,102.21 Z" fill="#0000ff"/>
<rect x="117.10" y="102.11" width="2.6" height="2.6" fill="#ff0000"/>
<path d="M118.50,101.62 L120.20,104.62 L116.80,104.62 Z" fill="#00ff00"/>
<circle cx="119.40" cy="103.56" r="1.35" fill="#000"/>
<path d="M120.10,105.46 L121.80,102.46 L118.40,102.46 Z" fill="#0000ff"/>
<path d="M120.80,101.96 L122.50,104.96 L119.10,104.96 Z" fill="#00ff00"/>
<rect x="120.00" y="102.52" width="2.6" height="2.6" fill="#ff0000"/>
<path d="M121.80,105.68 L123.50,102.68 L120.10,102.68 Z" fill="#0000ff"/>
<circle cx="122.80" cy="103.98" r="1.35" fill="#000"/>
<path d="M123.50,105.85 L125.20,102.85 L121.80,102.85 Z" fill="#0000ff"/>
<path d="M125.20,105.99 L126.90,102.99 L123.50,102.99 Z" fill="#0000ff"/>
<circle cx="126.20" cy="104.27" r="1.35" fill="#000"/>
<path d="M126.90,106.12 L128.60,103.12 L125.20,103.12 Z" fill="#0000ff"/>
<circle cx="129.60" cy="104.52" r="1.35" fill="#000"/>
<circle cx="133.00" cy="104.75" r="1.35" fill="#000"/>
<circle cx="136.40" cy="104.89" r="1.35" fill="#000"/>
<text x="100.50" y="121.30" font-size="9.3" text-anchor="middle" font-family='"Liberation Serif", serif'  ><tspan font-style="italic">tL</tspan><tspan font-size="6.3" dy="-3.2">1/<tspan font-style="italic">&#957;</tspan></tspan></text>
<g transform="translate(39.7,93.3) rotate(-90)">
<path d="M0.3,-3.2 L1.6,-4.0 L3.6,0.9 L6.6,-7.0 L28.8,-7.0" fill="none" stroke="#000" stroke-width="0.55" stroke-linejoin="miter"/>
<path d="M1.6,-4.0 L3.6,0.9" fill="none" stroke="#000" stroke-width="0.75"/>
<text x="7.60" y="0.00" font-size="8.5" text-anchor="start" font-family='"Liberation Serif", serif'  letter-spacing="0.25"><tspan font-style="italic">S</tspan>(0,<tspan font-style="italic">&#960;</tspan>)<tspan font-style="italic">L</tspan><tspan font-size="7.0" dy="-3.3"><tspan font-style="italic">&#946;</tspan>/<tspan font-style="italic">&#957;</tspan></tspan></text>
</g>
<clipPath id="cb"><rect x="233.4" y="2.3" width="174.79999999999998" height="127.3"/></clipPath>
<rect x="233.4" y="5.3" width="174.79999999999998" height="124.3" fill="none" stroke="#2a2a2a" stroke-width="0.72"/>
<line x1="251.80" y1="129.6" x2="251.80" y2="127.8" stroke="#2a2a2a" stroke-width="0.432"/>
<line x1="251.80" y1="5.3" x2="251.80" y2="7.1" stroke="#2a2a2a" stroke-width="0.432"/>
<text x="251.80" y="137.80" font-size="8.5" text-anchor="middle" font-family='"Liberation Serif", serif'  >1.5</text>
<line x1="297.80" y1="129.6" x2="297.80" y2="127.8" stroke="#2a2a2a" stroke-width="0.432"/>
<line x1="297.80" y1="5.3" x2="297.80" y2="7.1" stroke="#2a2a2a" stroke-width="0.432"/>
<text x="297.80" y="137.80" font-size="8.5" text-anchor="middle" font-family='"Liberation Serif", serif'  >1.55</text>
<line x1="343.80" y1="129.6" x2="343.80" y2="127.8" stroke="#2a2a2a" stroke-width="0.432"/>
<line x1="343.80" y1="5.3" x2="343.80" y2="7.1" stroke="#2a2a2a" stroke-width="0.432"/>
<text x="343.80" y="137.80" font-size="8.5" text-anchor="middle" font-family='"Liberation Serif", serif'  >1.6</text>
<line x1="389.80" y1="129.6" x2="389.80" y2="127.8" stroke="#2a2a2a" stroke-width="0.432"/>
<line x1="389.80" y1="5.3" x2="389.80" y2="7.1" stroke="#2a2a2a" stroke-width="0.432"/>
<text x="389.80" y="137.80" font-size="8.5" text-anchor="middle" font-family='"Liberation Serif", serif'  >1.65</text>
<line x1="233.4" y1="129.60" x2="235.20000000000002" y2="129.60" stroke="#2a2a2a" stroke-width="0.432"/>
<line x1="408.2" y1="129.60" x2="406.4" y2="129.60" stroke="#2a2a2a" stroke-width="0.432"/>
<text x="229.40" y="131.50" font-size="8.5" text-anchor="end" font-family='"Liberation Serif", serif'  >0</text>
<line x1="233.4" y1="104.74" x2="235.20000000000002" y2="104.74" stroke="#2a2a2a" stroke-width="0.432"/>
<line x1="408.2" y1="104.74" x2="406.4" y2="104.74" stroke="#2a2a2a" stroke-width="0.432"/>
<text x="229.40" y="106.64" font-size="8.5" text-anchor="end" font-family='"Liberation Serif", serif'  >0.1</text>
<line x1="233.4" y1="79.88" x2="235.20000000000002" y2="79.88" stroke="#2a2a2a" stroke-width="0.432"/>
<line x1="408.2" y1="79.88" x2="406.4" y2="79.88" stroke="#2a2a2a" stroke-width="0.432"/>
<text x="229.40" y="81.78" font-size="8.5" text-anchor="end" font-family='"Liberation Serif", serif'  >0.2</text>
<line x1="233.4" y1="55.02" x2="235.20000000000002" y2="55.02" stroke="#2a2a2a" stroke-width="0.432"/>
<line x1="408.2" y1="55.02" x2="406.4" y2="55.02" stroke="#2a2a2a" stroke-width="0.432"/>
<text x="229.40" y="56.92" font-size="8.5" text-anchor="end" font-family='"Liberation Serif", serif'  >0.3</text>
<line x1="233.4" y1="30.16" x2="235.20000000000002" y2="30.16" stroke="#2a2a2a" stroke-width="0.432"/>
<line x1="408.2" y1="30.16" x2="406.4" y2="30.16" stroke="#2a2a2a" stroke-width="0.432"/>
<text x="229.40" y="32.06" font-size="8.5" text-anchor="end" font-family='"Liberation Serif", serif'  >0.4</text>
<line x1="233.4" y1="5.30" x2="235.20000000000002" y2="5.30" stroke="#2a2a2a" stroke-width="0.432"/>
<line x1="408.2" y1="5.30" x2="406.4" y2="5.30" stroke="#2a2a2a" stroke-width="0.432"/>
<text x="229.40" y="7.20" font-size="8.5" text-anchor="end" font-family='"Liberation Serif", serif'  >0.5</text>
<line x1="323.56" y1="5.3" x2="323.56" y2="129.6" stroke="#333" stroke-width="0.5"/>
<g clip-path="url(#cb)">
<polyline points="205.80,38.50 251.80,53.20 297.80,70.90 343.80,86.50 389.80,98.30 435.80,106.50" fill="none" stroke="#000" stroke-width="0.7" />
<polyline points="228.80,28.50 251.80,34.90 274.80,50.10 297.80,62.80 320.80,79.60 343.80,87.20 366.80,97.30 389.80,107.90 412.80,113.00" fill="none" stroke="#ff0000" stroke-width="0.55" stroke-dasharray="2.2,0.45" />
<polyline points="233.40,17.20 251.80,21.00 270.20,31.60 288.60,45.80 307.00,66.40 325.40,81.40 343.80,94.30 362.20,104.90 380.60,109.70 399.00,115.50 417.40,122.00" fill="none" stroke="#00ff00" stroke-width="0.55" stroke-dasharray="1.2,0.55" />
<polyline points="233.40,9.40 242.60,11.40 251.80,10.60 261.00,12.20 270.20,15.70 279.40,20.80 288.60,29.10 297.80,39.30 307.00,53.40 316.20,68.40 325.40,81.90 334.60,96.60 343.80,105.90 353.00,112.50 362.20,116.30 371.40,118.50 380.60,121.10 389.80,121.10 399.00,124.90 408.20,122.60" fill="none" stroke="#0000ff" stroke-width="0.6" stroke-dasharray="2.4,0.4" />
<circle cx="251.80" cy="53.20" r="2.20" fill="none" stroke="#000" stroke-width="0.6"/>
<circle cx="251.80" cy="53.20" r="0.55" fill="#000"/>
<path d="M251.80,52.40 V54.00 M250.90,52.40 H252.70 M250.90,54.00 H252.70" stroke="#000" stroke-width="0.4" fill="none"/>
<circle cx="297.80" cy="70.90" r="2.20" fill="none" stroke="#000" stroke-width="0.6"/>
<circle cx="297.80" cy="70.90" r="0.55" fill="#000"/>
<path d="M297.80,70.10 V71.70 M296.90,70.10 H298.70 M296.90,71.70 H298.70" stroke="#000" stroke-width="0.4" fill="none"/>
<circle cx="343.80" cy="86.50" r="2.20" fill="none" stroke="#000" stroke-width="0.6"/>
<circle cx="343.80" cy="86.50" r="0.55" fill="#000"/>
<path d="M343.80,85.70 V87.30 M342.90,85.70 H344.70 M342.90,87.30 H344.70" stroke="#000" stroke-width="0.4" fill="none"/>
<circle cx="389.80" cy="98.30" r="2.20" fill="none" stroke="#000" stroke-width="0.6"/>
<circle cx="389.80" cy="98.30" r="0.55" fill="#000"/>
<path d="M389.80,97.50 V99.10 M388.90,97.50 H390.70 M388.90,99.10 H390.70" stroke="#000" stroke-width="0.4" fill="none"/>
<rect x="249.64" y="32.74" width="4.32" height="4.32" fill="none" stroke="#ff0000" stroke-width="0.6"/>
<circle cx="251.80" cy="34.90" r="0.55" fill="#ff0000"/>
<path d="M251.80,34.00 V35.80 M250.90,34.00 H252.70 M250.90,35.80 H252.70" stroke="#ff0000" stroke-width="0.4" fill="none"/>
<rect x="272.64" y="47.94" width="4.32" height="4.32" fill="none" stroke="#ff0000" stroke-width="0.6"/>
<circle cx="274.80" cy="50.10" r="0.55" fill="#ff0000"/>
<path d="M274.80,49.20 V51.00 M273.90,49.20 H275.70 M273.90,51.00 H275.70" stroke="#ff0000" stroke-width="0.4" fill="none"/>
<rect x="295.64" y="60.64" width="4.32" height="4.32" fill="none" stroke="#ff0000" stroke-width="0.6"/>
<circle cx="297.80" cy="62.80" r="0.55" fill="#ff0000"/>
<path d="M297.80,61.90 V63.70 M296.90,61.90 H298.70 M296.90,63.70 H298.70" stroke="#ff0000" stroke-width="0.4" fill="none"/>
<rect x="318.64" y="77.44" width="4.32" height="4.32" fill="none" stroke="#ff0000" stroke-width="0.6"/>
<circle cx="320.80" cy="79.60" r="0.55" fill="#ff0000"/>
<path d="M320.80,78.70 V80.50 M319.90,78.70 H321.70 M319.90,80.50 H321.70" stroke="#ff0000" stroke-width="0.4" fill="none"/>
<rect x="341.64" y="85.04" width="4.32" height="4.32" fill="none" stroke="#ff0000" stroke-width="0.6"/>
<circle cx="343.80" cy="87.20" r="0.55" fill="#ff0000"/>
<path d="M343.80,86.30 V88.10 M342.90,86.30 H344.70 M342.90,88.10 H344.70" stroke="#ff0000" stroke-width="0.4" fill="none"/>
<rect x="364.64" y="95.14" width="4.32" height="4.32" fill="none" stroke="#ff0000" stroke-width="0.6"/>
<circle cx="366.80" cy="97.30" r="0.55" fill="#ff0000"/>
<path d="M366.80,96.40 V98.20 M365.90,96.40 H367.70 M365.90,98.20 H367.70" stroke="#ff0000" stroke-width="0.4" fill="none"/>
<rect x="387.64" y="105.74" width="4.32" height="4.32" fill="none" stroke="#ff0000" stroke-width="0.6"/>
<circle cx="389.80" cy="107.90" r="0.55" fill="#ff0000"/>
<path d="M389.80,107.00 V108.80 M388.90,107.00 H390.70 M388.90,108.80 H390.70" stroke="#ff0000" stroke-width="0.4" fill="none"/>
</g>
<path d="M233.40,14.75 L235.44,18.46 L231.36,18.46 Z" fill="#00ff00" fill-opacity="0.1" stroke="#00ff00" stroke-width="0.5"/>
<circle cx="233.40" cy="17.20" r="0.55" fill="#00ff00"/>
<path d="M233.40,16.00 V18.40 M232.50,16.00 H234.30 M232.50,18.40 H234.30" stroke="#00ff00" stroke-width="0.4" fill="none"/>
<path d="M251.80,18.55 L253.84,22.26 L249.76,22.26 Z" fill="#00ff00" fill-opacity="0.1" stroke="#00ff00" stroke-width="0.5"/>
<circle cx="251.80" cy="21.00" r="0.55" fill="#00ff00"/>
<path d="M251.80,19.80 V22.20 M250.90,19.80 H252.70 M250.90,22.20 H252.70" stroke="#00ff00" stroke-width="0.4" fill="none"/>
<path d="M270.20,29.15 L272.24,32.86 L268.16,32.86 Z" fill="#00ff00" fill-opacity="0.1" stroke="#00ff00" stroke-width="0.5"/>
<circle cx="270.20" cy="31.60" r="0.55" fill="#00ff00"/>
<path d="M270.20,30.40 V32.80 M269.30,30.40 H271.10 M269.30,32.80 H271.10" stroke="#00ff00" stroke-width="0.4" fill="none"/>
<path d="M288.60,43.35 L290.64,47.06 L286.56,47.06 Z" fill="#00ff00" fill-opacity="0.1" stroke="#00ff00" stroke-width="0.5"/>
<circle cx="288.60" cy="45.80" r="0.55" fill="#00ff00"/>
<path d="M288.60,44.60 V47.00 M287.70,44.60 H289.50 M287.70,47.00 H289.50" stroke="#00ff00" stroke-width="0.4" fill="none"/>
<path d="M307.00,63.95 L309.04,67.66 L304.96,67.66 Z" fill="#00ff00" fill-opacity="0.1" stroke="#00ff00" stroke-width="0.5"/>
<circle cx="307.00" cy="66.40" r="0.55" fill="#00ff00"/>
<path d="M307.00,65.20 V67.60 M306.10,65.20 H307.90 M306.10,67.60 H307.90" stroke="#00ff00" stroke-width="0.4" fill="none"/>
<path d="M325.40,78.95 L327.44,82.66 L323.36,82.66 Z" fill="#00ff00" fill-opacity="0.1" stroke="#00ff00" stroke-width="0.5"/>
<circle cx="325.40" cy="81.40" r="0.55" fill="#00ff00"/>
<path d="M325.40,80.20 V82.60 M324.50,80.20 H326.30 M324.50,82.60 H326.30" stroke="#00ff00" stroke-width="0.4" fill="none"/>
<path d="M343.80,91.85 L345.84,95.56 L341.76,95.56 Z" fill="#00ff00" fill-opacity="0.1" stroke="#00ff00" stroke-width="0.5"/>
<circle cx="343.80" cy="94.30" r="0.55" fill="#00ff00"/>
<path d="M343.80,93.10 V95.50 M342.90,93.10 H344.70 M342.90,95.50 H344.70" stroke="#00ff00" stroke-width="0.4" fill="none"/>
<path d="M362.20,102.45 L364.24,106.16 L360.16,106.16 Z" fill="#00ff00" fill-opacity="0.1" stroke="#00ff00" stroke-width="0.5"/>
<circle cx="362.20" cy="104.90" r="0.55" fill="#00ff00"/>
<path d="M362.20,103.70 V106.10 M361.30,103.70 H363.10 M361.30,106.10 H363.10" stroke="#00ff00" stroke-width="0.4" fill="none"/>
<path d="M380.60,107.25 L382.64,110.96 L378.56,110.96 Z" fill="#00ff00" fill-opacity="0.1" stroke="#00ff00" stroke-width="0.5"/>
<circle cx="380.60" cy="109.70" r="0.55" fill="#00ff00"/>
<path d="M380.60,108.50 V110.90 M379.70,108.50 H381.50 M379.70,110.90 H381.50" stroke="#00ff00" stroke-width="0.4" fill="none"/>
<path d="M399.00,113.05 L401.04,116.76 L396.96,116.76 Z" fill="#00ff00" fill-opacity="0.1" stroke="#00ff00" stroke-width="0.5"/>
<circle cx="399.00" cy="115.50" r="0.55" fill="#00ff00"/>
<path d="M399.00,114.30 V116.70 M398.10,114.30 H399.90 M398.10,116.70 H399.90" stroke="#00ff00" stroke-width="0.4" fill="none"/>
<path d="M233.40,11.99 L235.56,8.06 L231.24,8.06 Z" fill="#0000ff" fill-opacity="0.15" stroke="#0000ff" stroke-width="0.5"/>
<circle cx="233.40" cy="9.40" r="0.55" fill="#0000ff"/>
<path d="M233.40,6.10 V12.70 M232.50,6.10 H234.30 M232.50,12.70 H234.30" stroke="#0000ff" stroke-width="0.4" fill="none"/>
<path d="M242.60,13.99 L244.76,10.06 L240.44,10.06 Z" fill="#0000ff" fill-opacity="0.15" stroke="#0000ff" stroke-width="0.5"/>
<circle cx="242.60" cy="11.40" r="0.55" fill="#0000ff"/>
<path d="M242.60,8.40 V14.40 M241.70,8.40 H243.50 M241.70,14.40 H243.50" stroke="#0000ff" stroke-width="0.4" fill="none"/>
<path d="M251.80,13.19 L253.96,9.26 L249.64,9.26 Z" fill="#0000ff" fill-opacity="0.15" stroke="#0000ff" stroke-width="0.5"/>
<circle cx="251.80" cy="10.60" r="0.55" fill="#0000ff"/>
<path d="M251.80,7.30 V13.90 M250.90,7.30 H252.70 M250.90,13.90 H252.70" stroke="#0000ff" stroke-width="0.4" fill="none"/>
<path d="M261.00,14.79 L263.16,10.86 L258.84,10.86 Z" fill="#0000ff" fill-opacity="0.15" stroke="#0000ff" stroke-width="0.5"/>
<circle cx="261.00" cy="12.20" r="0.55" fill="#0000ff"/>
<path d="M261.00,9.20 V15.20 M260.10,9.20 H261.90 M260.10,15.20 H261.90" stroke="#0000ff" stroke-width="0.4" fill="none"/>
<path d="M270.20,18.29 L272.36,14.36 L268.04,14.36 Z" fill="#0000ff" fill-opacity="0.15" stroke="#0000ff" stroke-width="0.5"/>
<circle cx="270.20" cy="15.70" r="0.55" fill="#0000ff"/>
<path d="M270.20,12.90 V18.50 M269.30,12.90 H271.10 M269.30,18.50 H271.10" stroke="#0000ff" stroke-width="0.4" fill="none"/>
<path d="M279.40,23.39 L281.56,19.46 L277.24,19.46 Z" fill="#0000ff" fill-opacity="0.15" stroke="#0000ff" stroke-width="0.5"/>
<circle cx="279.40" cy="20.80" r="0.55" fill="#0000ff"/>
<path d="M279.40,18.20 V23.40 M278.50,18.20 H280.30 M278.50,23.40 H280.30" stroke="#0000ff" stroke-width="0.4" fill="none"/>
<path d="M288.60,31.69 L290.76,27.76 L286.44,27.76 Z" fill="#0000ff" fill-opacity="0.15" stroke="#0000ff" stroke-width="0.5"/>
<circle cx="288.60" cy="29.10" r="0.55" fill="#0000ff"/>
<path d="M288.60,26.80 V31.40 M287.70,26.80 H289.50 M287.70,31.40 H289.50" stroke="#0000ff" stroke-width="0.4" fill="none"/>
<path d="M297.80,41.89 L299.96,37.96 L295.64,37.96 Z" fill="#0000ff" fill-opacity="0.15" stroke="#0000ff" stroke-width="0.5"/>
<circle cx="297.80" cy="39.30" r="0.55" fill="#0000ff"/>
<path d="M297.80,37.30 V41.30 M296.90,37.30 H298.70 M296.90,41.30 H298.70" stroke="#0000ff" stroke-width="0.4" fill="none"/>
<path d="M307.00,55.99 L309.16,52.06 L304.84,52.06 Z" fill="#0000ff" fill-opacity="0.15" stroke="#0000ff" stroke-width="0.5"/>
<circle cx="307.00" cy="53.40" r="0.55" fill="#0000ff"/>
<path d="M307.00,51.60 V55.20 M306.10,51.60 H307.90 M306.10,55.20 H307.90" stroke="#0000ff" stroke-width="0.4" fill="none"/>
<path d="M316.20,70.99 L318.36,67.06 L314.04,67.06 Z" fill="#0000ff" fill-opacity="0.15" stroke="#0000ff" stroke-width="0.5"/>
<circle cx="316.20" cy="68.40" r="0.55" fill="#0000ff"/>
<path d="M316.20,66.80 V70.00 M315.30,66.80 H317.10 M315.30,70.00 H317.10" stroke="#0000ff" stroke-width="0.4" fill="none"/>
<path d="M325.40,84.49 L327.56,80.56 L323.24,80.56 Z" fill="#0000ff" fill-opacity="0.15" stroke="#0000ff" stroke-width="0.5"/>
<circle cx="325.40" cy="81.90" r="0.55" fill="#0000ff"/>
<path d="M325.40,80.40 V83.40 M324.50,80.40 H326.30 M324.50,83.40 H326.30" stroke="#0000ff" stroke-width="0.4" fill="none"/>
<path d="M334.60,99.19 L336.76,95.26 L332.44,95.26 Z" fill="#0000ff" fill-opacity="0.15" stroke="#0000ff" stroke-width="0.5"/>
<circle cx="334.60" cy="96.60" r="0.55" fill="#0000ff"/>
<path d="M334.60,95.10 V98.10 M333.70,95.10 H335.50 M333.70,98.10 H335.50" stroke="#0000ff" stroke-width="0.4" fill="none"/>
<path d="M343.80,108.49 L345.96,104.56 L341.64,104.56 Z" fill="#0000ff" fill-opacity="0.15" stroke="#0000ff" stroke-width="0.5"/>
<circle cx="343.80" cy="105.90" r="0.55" fill="#0000ff"/>
<path d="M343.80,104.40 V107.40 M342.90,104.40 H344.70 M342.90,107.40 H344.70" stroke="#0000ff" stroke-width="0.4" fill="none"/>
<path d="M353.00,115.09 L355.16,111.16 L350.84,111.16 Z" fill="#0000ff" fill-opacity="0.15" stroke="#0000ff" stroke-width="0.5"/>
<circle cx="353.00" cy="112.50" r="0.55" fill="#0000ff"/>
<path d="M353.00,111.00 V114.00 M352.10,111.00 H353.90 M352.10,114.00 H353.90" stroke="#0000ff" stroke-width="0.4" fill="none"/>
<path d="M362.20,118.89 L364.36,114.96 L360.04,114.96 Z" fill="#0000ff" fill-opacity="0.15" stroke="#0000ff" stroke-width="0.5"/>
<circle cx="362.20" cy="116.30" r="0.55" fill="#0000ff"/>
<path d="M362.20,114.80 V117.80 M361.30,114.80 H363.10 M361.30,117.80 H363.10" stroke="#0000ff" stroke-width="0.4" fill="none"/>
<path d="M371.40,121.09 L373.56,117.16 L369.24,117.16 Z" fill="#0000ff" fill-opacity="0.15" stroke="#0000ff" stroke-width="0.5"/>
<circle cx="371.40" cy="118.50" r="0.55" fill="#0000ff"/>
<path d="M371.40,117.00 V120.00 M370.50,117.00 H372.30 M370.50,120.00 H372.30" stroke="#0000ff" stroke-width="0.4" fill="none"/>
<path d="M380.60,123.69 L382.76,119.76 L378.44,119.76 Z" fill="#0000ff" fill-opacity="0.15" stroke="#0000ff" stroke-width="0.5"/>
<circle cx="380.60" cy="121.10" r="0.55" fill="#0000ff"/>
<path d="M380.60,119.60 V122.60 M379.70,119.60 H381.50 M379.70,122.60 H381.50" stroke="#0000ff" stroke-width="0.4" fill="none"/>
<path d="M389.80,123.69 L391.96,119.76 L387.64,119.76 Z" fill="#0000ff" fill-opacity="0.15" stroke="#0000ff" stroke-width="0.5"/>
<circle cx="389.80" cy="121.10" r="0.55" fill="#0000ff"/>
<path d="M389.80,119.60 V122.60 M388.90,119.60 H390.70 M388.90,122.60 H390.70" stroke="#0000ff" stroke-width="0.4" fill="none"/>
<path d="M399.00,127.49 L401.16,123.56 L396.84,123.56 Z" fill="#0000ff" fill-opacity="0.15" stroke="#0000ff" stroke-width="0.5"/>
<circle cx="399.00" cy="124.90" r="0.55" fill="#0000ff"/>
<path d="M399.00,123.40 V126.40 M398.10,123.40 H399.90 M398.10,126.40 H399.90" stroke="#0000ff" stroke-width="0.4" fill="none"/>
<path d="M408.20,125.19 L410.36,121.26 L406.04,121.26 Z" fill="#0000ff" fill-opacity="0.15" stroke="#0000ff" stroke-width="0.5"/>
<circle cx="408.20" cy="122.60" r="0.55" fill="#0000ff"/>
<path d="M408.20,121.10 V124.10 M407.30,121.10 H409.10 M407.30,124.10 H409.10" stroke="#0000ff" stroke-width="0.4" fill="none"/>
<text x="379.80" y="17.20" font-size="9.3" text-anchor="end" font-family='"Liberation Serif", serif'  ><tspan font-style="italic">L</tspan> = 8</text>
<polyline points="382.90,14.20 401.60,14.20" fill="none" stroke="#000" stroke-width="0.7" />
<path d="M382.9,13.0 V15.399999999999999 M401.6,13.0 V15.399999999999999" stroke="#000" stroke-width="0.5"/>
<circle cx="392.25" cy="14.20" r="2.00" fill="none" stroke="#000" stroke-width="0.6"/>
<circle cx="392.25" cy="14.20" r="0.55" fill="#000"/>
<text x="379.80" y="31.10" font-size="9.3" text-anchor="end" font-family='"Liberation Serif", serif'  ><tspan font-style="italic">L</tspan> = 12</text>
<polyline points="382.90,28.10 401.60,28.10" fill="none" stroke="#ff0000" stroke-width="0.55" stroke-dasharray="2.2,0.45" />
<path d="M382.9,26.900000000000002 V29.3 M401.6,26.900000000000002 V29.3" stroke="#ff0000" stroke-width="0.5"/>
<rect x="390.25" y="26.10" width="4.00" height="4.00" fill="none" stroke="#ff0000" stroke-width="0.6"/>
<circle cx="392.25" cy="28.10" r="0.55" fill="#ff0000"/>
<text x="379.80" y="45.10" font-size="9.3" text-anchor="end" font-family='"Liberation Serif", serif'  ><tspan font-style="italic">L</tspan> = 16</text>
<polyline points="382.90,42.10 401.60,42.10" fill="none" stroke="#00ff00" stroke-width="0.55" stroke-dasharray="1.2,0.55" />
<path d="M382.9,40.9 V43.300000000000004 M401.6,40.9 V43.300000000000004" stroke="#00ff00" stroke-width="0.5"/>
<path d="M392.25,39.70 L394.25,43.34 L390.25,43.34 Z" fill="#00ff00" fill-opacity="0.12" stroke="#00ff00" stroke-width="0.5"/>
<circle cx="392.25" cy="42.10" r="0.55" fill="#00ff00"/>
<text x="379.80" y="59.00" font-size="9.3" text-anchor="end" font-family='"Liberation Serif", serif'  ><tspan font-style="italic">L</tspan> = 24</text>
<polyline points="382.90,56.00 401.60,56.00" fill="none" stroke="#0000ff" stroke-width="0.6" stroke-dasharray="2.4,0.4" />
<path d="M382.9,54.8 V57.2 M401.6,54.8 V57.2" stroke="#0000ff" stroke-width="0.5"/>
<path d="M392.25,58.40 L394.25,54.76 L390.25,54.76 Z" fill="#0000ff" fill-opacity="0.12" stroke="#0000ff" stroke-width="0.5"/>
<circle cx="392.25" cy="56.00" r="0.55" fill="#0000ff"/>
<text x="309.00" y="19.30" font-size="12" text-anchor="middle" font-family='"Liberation Sans", sans-serif'  >(b)</text>
<text x="321.30" y="146.90" font-size="9.0" text-anchor="middle" font-family='"Liberation Serif", serif'  letter-spacing="0.5">&#915;/<tspan font-style="italic" dx="0.6">J</tspan></text>
<g transform="translate(214.6,67.5) rotate(-90)">
<text x="0.00" y="0.00" font-size="9.3" text-anchor="middle" font-family='"Liberation Serif", serif'  ><tspan font-style="italic">Q</tspan><tspan font-size="6.3" dy="1.8">2</tspan></text>
</g>
<rect x="23.5" y="152.6" width="177.7" height="124.4" fill="none" stroke="#2a2a2a" stroke-width="0.72"/>
<line x1="23.50" y1="277.0" x2="23.50" y2="275.2" stroke="#2a2a2a" stroke-width="0.432"/>
<line x1="23.50" y1="152.6" x2="23.50" y2="154.4" stroke="#2a2a2a" stroke-width="0.432"/>
<text x="23.50" y="284.60" font-size="8.5" text-anchor="middle" font-family='"Liberation Serif", serif'  >0</text>
<line x1="48.89" y1="277.0" x2="48.89" y2="275.2" stroke="#2a2a2a" stroke-width="0.432"/>
<line x1="48.89" y1="152.6" x2="48.89" y2="154.4" stroke="#2a2a2a" stroke-width="0.432"/>
<text x="48.89" y="284.60" font-size="8.5" text-anchor="middle" font-family='"Liberation Serif", serif'  >0.02</text>
<line x1="74.27" y1="277.0" x2="74.27" y2="275.2" stroke="#2a2a2a" stroke-width="0.432"/>
<line x1="74.27" y1="152.6" x2="74.27" y2="154.4" stroke="#2a2a2a" stroke-width="0.432"/>
<text x="74.27" y="284.60" font-size="8.5" text-anchor="middle" font-family='"Liberation Serif", serif'  >0.04</text>
<line x1="99.66" y1="277.0" x2="99.66" y2="275.2" stroke="#2a2a2a" stroke-width="0.432"/>
<line x1="99.66" y1="152.6" x2="99.66" y2="154.4" stroke="#2a2a2a" stroke-width="0.432"/>
<text x="99.66" y="284.60" font-size="8.5" text-anchor="middle" font-family='"Liberation Serif", serif'  >0.06</text>
<line x1="125.04" y1="277.0" x2="125.04" y2="275.2" stroke="#2a2a2a" stroke-width="0.432"/>
<line x1="125.04" y1="152.6" x2="125.04" y2="154.4" stroke="#2a2a2a" stroke-width="0.432"/>
<text x="125.04" y="284.60" font-size="8.5" text-anchor="middle" font-family='"Liberation Serif", serif'  >0.08</text>
<line x1="150.43" y1="277.0" x2="150.43" y2="275.2" stroke="#2a2a2a" stroke-width="0.432"/>
<line x1="150.43" y1="152.6" x2="150.43" y2="154.4" stroke="#2a2a2a" stroke-width="0.432"/>
<text x="150.43" y="284.60" font-size="8.5" text-anchor="middle" font-family='"Liberation Serif", serif'  >0.1</text>
<line x1="175.81" y1="277.0" x2="175.81" y2="275.2" stroke="#2a2a2a" stroke-width="0.432"/>
<line x1="175.81" y1="152.6" x2="175.81" y2="154.4" stroke="#2a2a2a" stroke-width="0.432"/>
<text x="175.81" y="284.60" font-size="8.5" text-anchor="middle" font-family='"Liberation Serif", serif'  >0.12</text>
<line x1="201.20" y1="277.0" x2="201.20" y2="275.2" stroke="#2a2a2a" stroke-width="0.432"/>
<line x1="201.20" y1="152.6" x2="201.20" y2="154.4" stroke="#2a2a2a" stroke-width="0.432"/>
<text x="201.20" y="284.60" font-size="8.5" text-anchor="middle" font-family='"Liberation Serif", serif'  >0.14</text>
<line x1="23.5" y1="274.50" x2="25.3" y2="274.50" stroke="#2a2a2a" stroke-width="0.432"/>
<line x1="201.2" y1="274.50" x2="199.39999999999998" y2="274.50" stroke="#2a2a2a" stroke-width="0.432"/>
<text x="19.50" y="276.40" font-size="8.5" text-anchor="end" font-family='"Liberation Serif", serif'  >0</text>
<line x1="23.5" y1="250.10" x2="25.3" y2="250.10" stroke="#2a2a2a" stroke-width="0.432"/>
<line x1="201.2" y1="250.10" x2="199.39999999999998" y2="250.10" stroke="#2a2a2a" stroke-width="0.432"/>
<text x="19.50" y="252.00" font-size="8.5" text-anchor="end" font-family='"Liberation Serif", serif'  >0.2</text>
<line x1="23.5" y1="225.70" x2="25.3" y2="225.70" stroke="#2a2a2a" stroke-width="0.432"/>
<line x1="201.2" y1="225.70" x2="199.39999999999998" y2="225.70" stroke="#2a2a2a" stroke-width="0.432"/>
<text x="19.50" y="227.60" font-size="8.5" text-anchor="end" font-family='"Liberation Serif", serif'  >0.4</text>
<line x1="23.5" y1="201.30" x2="25.3" y2="201.30" stroke="#2a2a2a" stroke-width="0.432"/>
<line x1="201.2" y1="201.30" x2="199.39999999999998" y2="201.30" stroke="#2a2a2a" stroke-width="0.432"/>
<text x="19.50" y="203.20" font-size="8.5" text-anchor="end" font-family='"Liberation Serif", serif'  >0.6</text>
<line x1="23.5" y1="176.90" x2="25.3" y2="176.90" stroke="#2a2a2a" stroke-width="0.432"/>
<line x1="201.2" y1="176.90" x2="199.39999999999998" y2="176.90" stroke="#2a2a2a" stroke-width="0.432"/>
<text x="19.50" y="178.80" font-size="8.5" text-anchor="end" font-family='"Liberation Serif", serif'  >0.8</text>
<line x1="23.5" y1="152.50" x2="25.3" y2="152.50" stroke="#2a2a2a" stroke-width="0.432"/>
<line x1="201.2" y1="152.50" x2="199.39999999999998" y2="152.50" stroke="#2a2a2a" stroke-width="0.432"/>
<text x="19.50" y="154.40" font-size="8.5" text-anchor="end" font-family='"Liberation Serif", serif'  >1</text>
<polyline points="28.40,156.40 32.10,164.10 37.00,176.50 43.40,196.50 50.00,210.00 63.20,232.00 76.30,242.70 102.70,253.40 129.20,259.40 182.20,264.90" fill="none" stroke="#000" stroke-width="0.7" />
<polyline points="32.10,164.20 37.00,181.20 43.30,209.50 50.00,230.90 63.20,247.80 76.30,260.70 102.70,270.10 129.20,270.60 182.20,270.90" fill="none" stroke="#ff0000" stroke-width="0.55" stroke-dasharray="2.2,0.45" />
<polyline points="31.90,210.20 36.80,239.00 43.40,252.40 50.00,263.00 76.30,271.30 102.70,272.60" fill="none" stroke="#00ff00" stroke-width="0.55" stroke-dasharray="1.2,0.55" />
<polyline points="36.80,270.10 50.00,273.90 63.20,275.00 76.30,275.00 102.70,275.00" fill="none" stroke="#0000ff" stroke-width="0.6" stroke-dasharray="2.4,0.4" />
<circle cx="28.40" cy="156.40" r="2.50" fill="none" stroke="#000" stroke-width="0.6"/>
<circle cx="28.40" cy="156.40" r="0.55" fill="#000"/>
<circle cx="32.10" cy="164.10" r="2.50" fill="none" stroke="#000" stroke-width="0.6"/>
<circle cx="32.10" cy="164.10" r="0.55" fill="#000"/>
<circle cx="37.00" cy="176.50" r="2.50" fill="none" stroke="#000" stroke-width="0.6"/>
<circle cx="37.00" cy="176.50" r="0.55" fill="#000"/>
<circle cx="43.40" cy="196.50" r="2.50" fill="none" stroke="#000" stroke-width="0.6"/>
<circle cx="43.40" cy="196.50" r="0.55" fill="#000"/>
<circle cx="50.00" cy="210.00" r="2.50" fill="none" stroke="#000" stroke-width="0.6"/>
<circle cx="50.00" cy="210.00" r="0.55" fill="#000"/>
<circle cx="63.20" cy="232.00" r="2.50" fill="none" stroke="#000" stroke-width="0.6"/>
<circle cx="63.20" cy="232.00" r="0.55" fill="#000"/>
<circle cx="76.30" cy="242.70" r="2.50" fill="none" stroke="#000" stroke-width="0.6"/>
<circle cx="76.30" cy="242.70" r="0.55" fill="#000"/>
<circle cx="102.70" cy="253.40" r="2.50" fill="none" stroke="#000" stroke-width="0.6"/>
<circle cx="102.70" cy="253.40" r="0.55" fill="#000"/>
<circle cx="129.20" cy="259.40" r="2.50" fill="none" stroke="#000" stroke-width="0.6"/>
<circle cx="129.20" cy="259.40" r="0.55" fill="#000"/>
<circle cx="182.20" cy="264.90" r="2.50" fill="none" stroke="#000" stroke-width="0.6"/>
<circle cx="182.20" cy="264.90" r="0.55" fill="#000"/>
<rect x="29.60" y="161.70" width="5.00" height="5.00" fill="none" stroke="#ff0000" stroke-width="0.6"/>
<circle cx="32.10" cy="164.20" r="0.55" fill="#ff0000"/>
<rect x="34.50" y="178.70" width="5.00" height="5.00" fill="none" stroke="#ff0000" stroke-width="0.6"/>
<circle cx="37.00" cy="181.20" r="0.55" fill="#ff0000"/>
<rect x="40.80" y="207.00" width="5.00" height="5.00" fill="none" stroke="#ff0000" stroke-width="0.6"/>
<circle cx="43.30" cy="209.50" r="0.55" fill="#ff0000"/>
<rect x="47.50" y="228.40" width="5.00" height="5.00" fill="none" stroke="#ff0000" stroke-width="0.6"/>
<circle cx="50.00" cy="230.90" r="0.55" fill="#ff0000"/>
<rect x="60.70" y="245.30" width="5.00" height="5.00" fill="none" stroke="#ff0000" stroke-width="0.6"/>
<circle cx="63.20" cy="247.80" r="0.55" fill="#ff0000"/>
<rect x="73.80" y="258.20" width="5.00" height="5.00" fill="none" stroke="#ff0000" stroke-width="0.6"/>
<circle cx="76.30" cy="260.70" r="0.55" fill="#ff0000"/>
<rect x="100.20" y="267.60" width="5.00" height="5.00" fill="none" stroke="#ff0000" stroke-width="0.6"/>
<circle cx="102.70" cy="270.10" r="0.55" fill="#ff0000"/>
<rect x="126.70" y="268.10" width="5.00" height="5.00" fill="none" stroke="#ff0000" stroke-width="0.6"/>
<circle cx="129.20" cy="270.60" r="0.55" fill="#ff0000"/>
<rect x="179.70" y="268.40" width="5.00" height="5.00" fill="none" stroke="#ff0000" stroke-width="0.6"/>
<circle cx="182.20" cy="270.90" r="0.55" fill="#ff0000"/>
<path d="M31.90,207.20 L34.40,211.75 L29.40,211.75 Z" fill="#00ff00" fill-opacity="0.3" stroke="#00ff00" stroke-width="0.5"/>
<circle cx="31.90" cy="210.20" r="0.55" fill="#00ff00"/>
<path d="M36.80,236.00 L39.30,240.55 L34.30,240.55 Z" fill="#00ff00" fill-opacity="0.3" stroke="#00ff00" stroke-width="0.5"/>
<circle cx="36.80" cy="239.00" r="0.55" fill="#00ff00"/>
<path d="M43.40,249.40 L45.90,253.95 L40.90,253.95 Z" fill="#00ff00" fill-opacity="0.3" stroke="#00ff00" stroke-width="0.5"/>
<circle cx="43.40" cy="252.40" r="0.55" fill="#00ff00"/>
<path d="M50.00,260.00 L52.50,264.55 L47.50,264.55 Z" fill="#00ff00" fill-opacity="0.3" stroke="#00ff00" stroke-width="0.5"/>
<circle cx="50.00" cy="263.00" r="0.55" fill="#00ff00"/>
<path d="M76.30,268.30 L78.80,272.85 L73.80,272.85 Z" fill="#00ff00" fill-opacity="0.3" stroke="#00ff00" stroke-width="0.5"/>
<circle cx="76.30" cy="271.30" r="0.55" fill="#00ff00"/>
<path d="M102.70,269.60 L105.20,274.15 L100.20,274.15 Z" fill="#00ff00" fill-opacity="0.3" stroke="#00ff00" stroke-width="0.5"/>
<circle cx="102.70" cy="272.60" r="0.55" fill="#00ff00"/>
<path d="M36.80,273.10 L39.30,268.55 L34.30,268.55 Z" fill="#0000ff" fill-opacity="0.3" stroke="#0000ff" stroke-width="0.5"/>
<circle cx="36.80" cy="270.10" r="0.55" fill="#0000ff"/>
<path d="M50.00,276.90 L52.50,272.35 L47.50,272.35 Z" fill="#0000ff" fill-opacity="0.3" stroke="#0000ff" stroke-width="0.5"/>
<circle cx="50.00" cy="273.90" r="0.55" fill="#0000ff"/>
<path d="M63.20,278.00 L65.70,273.45 L60.70,273.45 Z" fill="#0000ff" fill-opacity="0.3" stroke="#0000ff" stroke-width="0.5"/>
<circle cx="63.20" cy="275.00" r="0.55" fill="#0000ff"/>
<path d="M76.30,278.00 L78.80,273.45 L73.80,273.45 Z" fill="#0000ff" fill-opacity="0.3" stroke="#0000ff" stroke-width="0.5"/>
<circle cx="76.30" cy="275.00" r="0.55" fill="#0000ff"/>
<path d="M102.70,278.00 L105.20,273.45 L100.20,273.45 Z" fill="#0000ff" fill-opacity="0.3" stroke="#0000ff" stroke-width="0.5"/>
<circle cx="102.70" cy="275.00" r="0.55" fill="#0000ff"/>
<text x="170.80" y="166.00" font-size="9.2" text-anchor="end" font-family='"Liberation Serif", serif'  ><tspan letter-spacing="0.5">&#915;/</tspan><tspan font-style="italic">J</tspan> = 0.01;<tspan font-style="italic">&#946;</tspan> = 1000</text>
<polyline points="174.90,163.00 194.60,163.00" fill="none" stroke="#000" stroke-width="0.7" />
<path d="M174.9,161.8 V164.2 M194.6,161.8 V164.2" stroke="#000" stroke-width="0.5"/>
<circle cx="184.75" cy="163.00" r="2.40" fill="none" stroke="#000" stroke-width="0.6"/>
<circle cx="184.75" cy="163.00" r="0.55" fill="#000"/>
<text x="170.80" y="184.00" font-size="9.2" text-anchor="end" font-family='"Liberation Serif", serif'  ><tspan letter-spacing="0.5">&#915;/</tspan><tspan font-style="italic">J</tspan> = 0.4;<tspan font-style="italic">&#946;</tspan> = 50</text>
<polyline points="174.90,181.00 194.60,181.00" fill="none" stroke="#ff0000" stroke-width="0.55" stroke-dasharray="2.2,0.45" />
<path d="M174.9,179.8 V182.2 M194.6,179.8 V182.2" stroke="#ff0000" stroke-width="0.5"/>
<rect x="182.35" y="178.60" width="4.80" height="4.80" fill="none" stroke="#ff0000" stroke-width="0.6"/>
<circle cx="184.75" cy="181.00" r="0.55" fill="#ff0000"/>
<text x="170.80" y="201.60" font-size="9.2" text-anchor="end" font-family='"Liberation Serif", serif'  ><tspan letter-spacing="0.5">&#915;/</tspan><tspan font-style="italic">J</tspan> = 0.8;<tspan font-style="italic">&#946;</tspan> = 50</text>
<polyline points="174.90,198.60 194.60,198.60" fill="none" stroke="#00ff00" stroke-width="0.55" stroke-dasharray="1.2,0.55" />
<path d="M174.9,197.4 V199.79999999999998 M194.6,197.4 V199.79999999999998" stroke="#00ff00" stroke-width="0.5"/>
<path d="M184.75,195.72 L187.15,200.09 L182.35,200.09 Z" fill="#00ff00" fill-opacity="0.2" stroke="#00ff00" stroke-width="0.5"/>
<circle cx="184.75" cy="198.60" r="0.55" fill="#00ff00"/>
<text x="170.80" y="219.40" font-size="9.2" text-anchor="end" font-family='"Liberation Serif", serif'  ><tspan letter-spacing="0.5">&#915;/</tspan><tspan font-style="italic">J</tspan> = 1.2;<tspan font-style="italic">&#946;</tspan> = 100</text>
<polyline points="174.90,216.40 194.60,216.40" fill="none" stroke="#0000ff" stroke-width="0.6" stroke-dasharray="2.4,0.4" />
<path d="M174.9,215.20000000000002 V217.6 M194.6,215.20000000000002 V217.6" stroke="#0000ff" stroke-width="0.5"/>
<path d="M184.75,219.28 L187.15,214.91 L182.35,214.91 Z" fill="#0000ff" fill-opacity="0.2" stroke="#0000ff" stroke-width="0.5"/>
<circle cx="184.75" cy="216.40" r="0.55" fill="#0000ff"/>
<text x="60.60" y="167.20" font-size="9.0" text-anchor="middle" font-family='"Liberation Serif", serif'  >&#936;<tspan font-size="6.3" dy="1.6">4</tspan><tspan dy="-1.6">/|&#936;|</tspan></text>
<text x="84.90" y="171.30" font-size="12" text-anchor="middle" font-family='"Liberation Sans", sans-serif'  >(c)</text>
<text x="112.90" y="294.00" font-size="9.0" text-anchor="middle" font-family='"Liberation Serif", serif'  letter-spacing="0.4">1/<tspan font-style="italic">L</tspan></text>
<rect x="232.8" y="152.6" width="174.39999999999998" height="124.50000000000003" fill="none" stroke="#2a2a2a" stroke-width="0.72"/>
<line x1="232.80" y1="277.1" x2="232.80" y2="275.3" stroke="#2a2a2a" stroke-width="0.432"/>
<line x1="232.80" y1="152.6" x2="232.80" y2="154.4" stroke="#2a2a2a" stroke-width="0.432"/>
<text x="232.80" y="284.70" font-size="8.5" text-anchor="middle" font-family='"Liberation Serif", serif'  >0</text>
<line x1="257.71" y1="277.1" x2="257.71" y2="275.3" stroke="#2a2a2a" stroke-width="0.432"/>
<line x1="257.71" y1="152.6" x2="257.71" y2="154.4" stroke="#2a2a2a" stroke-width="0.432"/>
<text x="257.71" y="284.70" font-size="8.5" text-anchor="middle" font-family='"Liberation Serif", serif'  >0.02</text>
<line x1="282.63" y1="277.1" x2="282.63" y2="275.3" stroke="#2a2a2a" stroke-width="0.432"/>
<line x1="282.63" y1="152.6" x2="282.63" y2="154.4" stroke="#2a2a2a" stroke-width="0.432"/>
<text x="282.63" y="284.70" font-size="8.5" text-anchor="middle" font-family='"Liberation Serif", serif'  >0.04</text>
<line x1="307.54" y1="277.1" x2="307.54" y2="275.3" stroke="#2a2a2a" stroke-width="0.432"/>
<line x1="307.54" y1="152.6" x2="307.54" y2="154.4" stroke="#2a2a2a" stroke-width="0.432"/>
<text x="307.54" y="284.70" font-size="8.5" text-anchor="middle" font-family='"Liberation Serif", serif'  >0.06</text>
<line x1="332.46" y1="277.1" x2="332.46" y2="275.3" stroke="#2a2a2a" stroke-width="0.432"/>
<line x1="332.46" y1="152.6" x2="332.46" y2="154.4" stroke="#2a2a2a" stroke-width="0.432"/>
<text x="332.46" y="284.70" font-size="8.5" text-anchor="middle" font-family='"Liberation Serif", serif'  >0.08</text>
<line x1="357.37" y1="277.1" x2="357.37" y2="275.3" stroke="#2a2a2a" stroke-width="0.432"/>
<line x1="357.37" y1="152.6" x2="357.37" y2="154.4" stroke="#2a2a2a" stroke-width="0.432"/>
<text x="357.37" y="284.70" font-size="8.5" text-anchor="middle" font-family='"Liberation Serif", serif'  >0.1</text>
<line x1="382.29" y1="277.1" x2="382.29" y2="275.3" stroke="#2a2a2a" stroke-width="0.432"/>
<line x1="382.29" y1="152.6" x2="382.29" y2="154.4" stroke="#2a2a2a" stroke-width="0.432"/>
<text x="382.29" y="284.70" font-size="8.5" text-anchor="middle" font-family='"Liberation Serif", serif'  >0.12</text>
<line x1="407.20" y1="277.1" x2="407.20" y2="275.3" stroke="#2a2a2a" stroke-width="0.432"/>
<line x1="407.20" y1="152.6" x2="407.20" y2="154.4" stroke="#2a2a2a" stroke-width="0.432"/>
<text x="407.20" y="284.70" font-size="8.5" text-anchor="middle" font-family='"Liberation Serif", serif'  >0.14</text>
<line x1="232.8" y1="277.10" x2="234.60000000000002" y2="277.10" stroke="#2a2a2a" stroke-width="0.432"/>
<line x1="407.2" y1="277.10" x2="405.4" y2="277.10" stroke="#2a2a2a" stroke-width="0.432"/>
<text x="228.80" y="279.00" font-size="8.5" text-anchor="end" font-family='"Liberation Serif", serif'  >0</text>
<line x1="232.8" y1="256.35" x2="234.60000000000002" y2="256.35" stroke="#2a2a2a" stroke-width="0.432"/>
<line x1="407.2" y1="256.35" x2="405.4" y2="256.35" stroke="#2a2a2a" stroke-width="0.432"/>
<text x="228.80" y="258.25" font-size="8.5" text-anchor="end" font-family='"Liberation Serif", serif'  >0.02</text>
<line x1="232.8" y1="235.60" x2="234.60000000000002" y2="235.60" stroke="#2a2a2a" stroke-width="0.432"/>
<line x1="407.2" y1="235.60" x2="405.4" y2="235.60" stroke="#2a2a2a" stroke-width="0.432"/>
<text x="228.80" y="237.50" font-size="8.5" text-anchor="end" font-family='"Liberation Serif", serif'  >0.04</text>
<line x1="232.8" y1="214.85" x2="234.60000000000002" y2="214.85" stroke="#2a2a2a" stroke-width="0.432"/>
<line x1="407.2" y1="214.85" x2="405.4" y2="214.85" stroke="#2a2a2a" stroke-width="0.432"/>
<text x="228.80" y="216.75" font-size="8.5" text-anchor="end" font-family='"Liberation Serif", serif'  >0.06</text>
<line x1="232.8" y1="194.10" x2="234.60000000000002" y2="194.10" stroke="#2a2a2a" stroke-width="0.432"/>
<line x1="407.2" y1="194.10" x2="405.4" y2="194.10" stroke="#2a2a2a" stroke-width="0.432"/>
<text x="228.80" y="196.00" font-size="8.5" text-anchor="end" font-family='"Liberation Serif", serif'  >0.08</text>
<line x1="232.8" y1="173.35" x2="234.60000000000002" y2="173.35" stroke="#2a2a2a" stroke-width="0.432"/>
<line x1="407.2" y1="173.35" x2="405.4" y2="173.35" stroke="#2a2a2a" stroke-width="0.432"/>
<text x="228.80" y="175.25" font-size="8.5" text-anchor="end" font-family='"Liberation Serif", serif'  >0.1</text>
<line x1="232.8" y1="152.60" x2="234.60000000000002" y2="152.60" stroke="#2a2a2a" stroke-width="0.432"/>
<line x1="407.2" y1="152.60" x2="405.4" y2="152.60" stroke="#2a2a2a" stroke-width="0.432"/>
<text x="228.80" y="154.50" font-size="8.5" text-anchor="end" font-family='"Liberation Serif", serif'  >0.12</text>
<polyline points="237.90,217.00 241.50,217.00 245.90,218.00 252.30,218.40 258.70,219.60 271.80,217.80 284.90,214.10 310.30,203.70 336.30,190.90 388.20,162.60" fill="none" stroke="#ff0000" stroke-width="0.55" stroke-dasharray="2.2,0.45" />
<polyline points="237.90,273.40 241.70,270.10 246.20,266.30 252.30,261.70 258.60,256.90 271.80,251.10 285.00,246.50 310.30,238.40 336.30,232.10 388.20,219.00" fill="none" stroke="#000" stroke-width="0.7" />
<rect x="235.40" y="214.50" width="5.00" height="5.00" fill="none" stroke="#ff0000" stroke-width="0.6"/>
<circle cx="237.90" cy="217.00" r="0.55" fill="#ff0000"/>
<rect x="239.00" y="214.50" width="5.00" height="5.00" fill="none" stroke="#ff0000" stroke-width="0.6"/>
<circle cx="241.50" cy="217.00" r="0.55" fill="#ff0000"/>
<rect x="243.40" y="215.50" width="5.00" height="5.00" fill="none" stroke="#ff0000" stroke-width="0.6"/>
<circle cx="245.90" cy="218.00" r="0.55" fill="#ff0000"/>
<rect x="249.80" y="215.90" width="5.00" height="5.00" fill="none" stroke="#ff0000" stroke-width="0.6"/>
<circle cx="252.30" cy="218.40" r="0.55" fill="#ff0000"/>
<rect x="256.20" y="217.10" width="5.00" height="5.00" fill="none" stroke="#ff0000" stroke-width="0.6"/>
<circle cx="258.70" cy="219.60" r="0.55" fill="#ff0000"/>
<rect x="269.30" y="215.30" width="5.00" height="5.00" fill="none" stroke="#ff0000" stroke-width="0.6"/>
<circle cx="271.80" cy="217.80" r="0.55" fill="#ff0000"/>
<rect x="282.40" y="211.60" width="5.00" height="5.00" fill="none" stroke="#ff0000" stroke-width="0.6"/>
<circle cx="284.90" cy="214.10" r="0.55" fill="#ff0000"/>
<rect x="307.80" y="201.20" width="5.00" height="5.00" fill="none" stroke="#ff0000" stroke-width="0.6"/>
<circle cx="310.30" cy="203.70" r="0.55" fill="#ff0000"/>
<rect x="333.80" y="188.40" width="5.00" height="5.00" fill="none" stroke="#ff0000" stroke-width="0.6"/>
<circle cx="336.30" cy="190.90" r="0.55" fill="#ff0000"/>
<rect x="385.70" y="160.10" width="5.00" height="5.00" fill="none" stroke="#ff0000" stroke-width="0.6"/>
<circle cx="388.20" cy="162.60" r="0.55" fill="#ff0000"/>
<circle cx="237.90" cy="273.40" r="2.50" fill="none" stroke="#000" stroke-width="0.6"/>
<circle cx="237.90" cy="273.40" r="0.55" fill="#000"/>
<circle cx="241.70" cy="270.10" r="2.50" fill="none" stroke="#000" stroke-width="0.6"/>
<circle cx="241.70" cy="270.10" r="0.55" fill="#000"/>
<circle cx="246.20" cy="266.30" r="2.50" fill="none" stroke="#000" stroke-width="0.6"/>
<circle cx="246.20" cy="266.30" r="0.55" fill="#000"/>
<circle cx="252.30" cy="261.70" r="2.50" fill="none" stroke="#000" stroke-width="0.6"/>
<circle cx="252.30" cy="261.70" r="0.55" fill="#000"/>
<circle cx="258.60" cy="256.90" r="2.50" fill="none" stroke="#000" stroke-width="0.6"/>
<circle cx="258.60" cy="256.90" r="0.55" fill="#000"/>
<circle cx="271.80" cy="251.10" r="2.50" fill="none" stroke="#000" stroke-width="0.6"/>
<circle cx="271.80" cy="251.10" r="0.55" fill="#000"/>
<circle cx="285.00" cy="246.50" r="2.50" fill="none" stroke="#000" stroke-width="0.6"/>
<circle cx="285.00" cy="246.50" r="0.55" fill="#000"/>
<circle cx="310.30" cy="238.40" r="2.50" fill="none" stroke="#000" stroke-width="0.6"/>
<circle cx="310.30" cy="238.40" r="0.55" fill="#000"/>
<circle cx="336.30" cy="232.10" r="2.50" fill="none" stroke="#000" stroke-width="0.6"/>
<circle cx="336.30" cy="232.10" r="0.55" fill="#000"/>
<circle cx="388.20" cy="219.00" r="2.50" fill="none" stroke="#000" stroke-width="0.6"/>
<circle cx="388.20" cy="219.00" r="0.55" fill="#000"/>
<text x="309.30" y="173.00" font-size="12" text-anchor="middle" font-family='"Liberation Sans", sans-serif'  >(d)</text>
<text x="319.70" y="294.00" font-size="9.0" text-anchor="middle" font-family='"Liberation Serif", serif'  letter-spacing="0.4">1/<tspan font-style="italic">L</tspan></text>
<text x="355.50" y="259.60" font-size="9.3" text-anchor="end" font-family='"Liberation Serif", serif'  ><tspan font-style="italic">P</tspan><tspan font-size="6.3" dy="1.8">&#8722;</tspan></text>
<polyline points="358.80,256.60 378.70,256.60" fill="none" stroke="#ff0000" stroke-width="0.55" stroke-dasharray="2.2,0.45" />
<path d="M358.8,255.40000000000003 V257.8 M378.7,255.40000000000003 V257.8" stroke="#ff0000" stroke-width="0.5"/>
<rect x="366.54" y="254.44" width="4.32" height="4.32" fill="none" stroke="#ff0000" stroke-width="0.6"/>
<circle cx="368.70" cy="256.60" r="0.55" fill="#ff0000"/>
<text x="355.50" y="271.90" font-size="9.3" text-anchor="end" font-family='"Liberation Serif", serif'  ><tspan font-style="italic">P</tspan><tspan font-size="6.3" dy="1.8">+</tspan></text>
<polyline points="358.80,268.90 378.70,268.90" fill="none" stroke="#000" stroke-width="0.7" />
<path d="M358.8,267.7 V270.09999999999997 M378.7,267.7 V270.09999999999997" stroke="#000" stroke-width="0.5"/>
<circle cx="368.70" cy="268.90" r="2.16" fill="none" stroke="#000" stroke-width="0.6"/>
<circle cx="368.70" cy="268.90" r="0.55" fill="#000"/>
</g>
</svg>
</body></html>
